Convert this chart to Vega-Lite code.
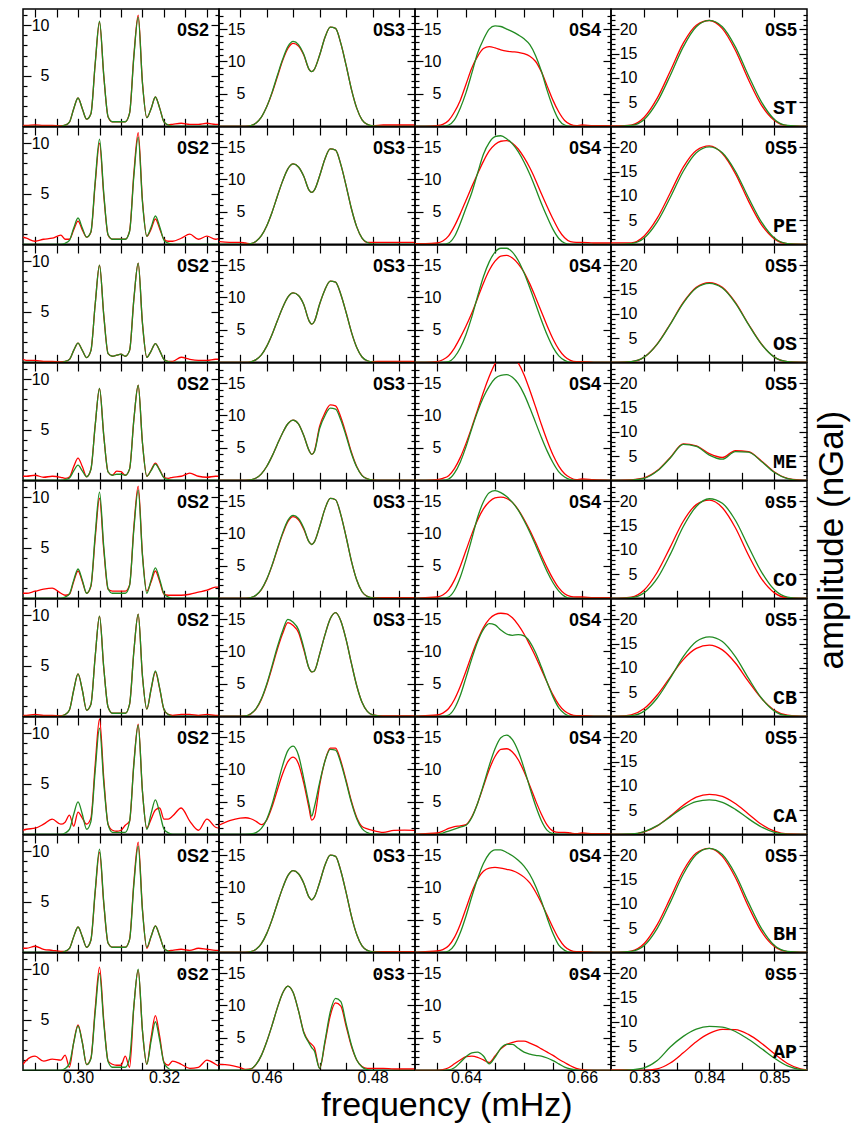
{
"$schema":"https://vega.github.io/schema/vega-lite/v6.json",
"background":"white",
"padding":{"left":21,"top":6,"right":0,"bottom":0},
"title":{"text":"frequency (mHz)","orient":"bottom","anchor":"middle","fontSize":34,"font":"Liberation Sans","fontWeight":"normal","color":"#000","dx":11,"offset":3},
"columns":4,
"spacing":0,
"bounds":"flush",
"config":{
"view":{"stroke":"#000","strokeWidth":1.5},
"axis":{"domain":false,"grid":false,"tickColor":"#000","tickWidth":1.2,"tickSize":-8,"labelFont":"Liberation Sans","labelFontSize":16,"labelColor":"#000","labelOverlap":false,"labelFlush":false},
"axisLeft":{"labelPadding":-18},
"axisRight":{"labels":false},
"axisTop":{"labels":false},
"axisBottom":{"labels":false,"labelPadding":7},
"line":{"strokeWidth":1.3,"interpolate":"monotone"}
},
"datasets":{
"ST_2":[{"f":0.2872,"r":0.1,"g":0},{"f":0.288,"r":0.1,"g":0},{"f":0.29,"r":0.15,"g":0},{"f":0.292,"r":0.1,"g":0},{"f":0.294,"r":0.1,"g":0},{"f":0.296,"r":0.05,"g":0},{"f":0.297,"r":0.11,"g":0.11},{"f":0.298,"r":0.42,"g":0.42},{"f":0.299,"r":1.74,"g":1.74},{"f":0.3,"r":2.8,"g":2.8},{"f":0.301,"r":1.74,"g":1.74},{"f":0.302,"r":0.7,"g":0.7},{"f":0.303,"r":1.24,"g":1.25},{"f":0.304,"r":6.18,"g":6.24},{"f":0.305,"r":10.3,"g":10.4},{"f":0.306,"r":4.94,"g":4.99},{"f":0.307,"r":0.93,"g":0.94},{"f":0.308,"r":0.45,"g":0.45},{"f":0.309,"r":0.45,"g":0.45},{"f":0.31,"r":0.45,"g":0.45},{"f":0.311,"r":0.45,"g":0.45},{"f":0.312,"r":1.32,"g":1.3},{"f":0.313,"r":7.04,"g":6.91},{"f":0.314,"r":11,"g":10.8},{"f":0.315,"r":4.29,"g":4.21},{"f":0.316,"r":0.85,"g":0.85},{"f":0.317,"r":1.74,"g":1.74},{"f":0.318,"r":2.9,"g":2.9},{"f":0.319,"r":1.8,"g":1.8},{"f":0.32,"r":0.44,"g":0.44},{"f":0.321,"r":0.15,"g":0.12},{"f":0.322,"r":0.2,"g":0},{"f":0.324,"r":0.3,"g":0},{"f":0.326,"r":0.2,"g":0},{"f":0.328,"r":0.2,"g":0},{"f":0.33,"r":0.3,"g":0},{"f":0.332,"r":0.2,"g":0},{"f":0.3328,"r":0.2,"g":0}],
"PE_2":[{"f":0.2872,"r":0.7,"g":0},{"f":0.288,"r":0.6,"g":0},{"f":0.29,"r":0.3,"g":0},{"f":0.292,"r":0.5,"g":0},{"f":0.294,"r":0.6,"g":0},{"f":0.296,"r":0.9,"g":0},{"f":0.297,"r":0.5,"g":0.1},{"f":0.298,"r":0.5,"g":0.39},{"f":0.299,"r":1.43,"g":1.61},{"f":0.3,"r":2.3,"g":2.6},{"f":0.301,"r":1.43,"g":1.61},{"f":0.302,"r":0.7,"g":0.7},{"f":0.303,"r":1.2,"g":1.25},{"f":0.304,"r":6,"g":6.24},{"f":0.305,"r":10,"g":10.4},{"f":0.306,"r":4.8,"g":4.99},{"f":0.307,"r":0.9,"g":0.94},{"f":0.308,"r":0.5,"g":0.5},{"f":0.309,"r":0.5,"g":0.5},{"f":0.31,"r":0.5,"g":0.5},{"f":0.311,"r":0.5,"g":0.5},{"f":0.312,"r":1.33,"g":1.27},{"f":0.313,"r":7.07,"g":6.78},{"f":0.314,"r":11.05,"g":10.6},{"f":0.315,"r":4.31,"g":4.13},{"f":0.316,"r":0.8,"g":0.8},{"f":0.317,"r":1.5,"g":1.68},{"f":0.318,"r":2.5,"g":2.8},{"f":0.319,"r":1.55,"g":1.74},{"f":0.32,"r":0.5,"g":0.42},{"f":0.321,"r":0.3,"g":0.11},{"f":0.322,"r":0.3,"g":0},{"f":0.324,"r":0.6,"g":0},{"f":0.326,"r":1,"g":0},{"f":0.328,"r":0.5,"g":0},{"f":0.33,"r":0.8,"g":0},{"f":0.332,"r":0.5,"g":0},{"f":0.3328,"r":0.6,"g":0}],
"OS_2":[{"f":0.2872,"r":0.3,"g":0},{"f":0.288,"r":0.2,"g":0},{"f":0.29,"r":0.2,"g":0},{"f":0.292,"r":0.1,"g":0},{"f":0.294,"r":0.1,"g":0},{"f":0.296,"r":0.05,"g":0},{"f":0.297,"r":0.08,"g":0.08},{"f":0.298,"r":0.29,"g":0.29},{"f":0.299,"r":1.18,"g":1.18},{"f":0.3,"r":1.9,"g":1.9},{"f":0.301,"r":1.18,"g":1.18},{"f":0.302,"r":0.46,"g":0.46},{"f":0.303,"r":1.15,"g":1.15},{"f":0.304,"r":5.76,"g":5.76},{"f":0.305,"r":9.6,"g":9.6},{"f":0.306,"r":4.61,"g":4.61},{"f":0.307,"r":0.86,"g":0.86},{"f":0.308,"r":0.6,"g":0.6},{"f":0.309,"r":0.7,"g":0.7},{"f":0.31,"r":0.8,"g":0.8},{"f":0.311,"r":0.6,"g":0.6},{"f":0.312,"r":1.18,"g":1.18},{"f":0.313,"r":6.27,"g":6.27},{"f":0.314,"r":9.8,"g":9.8},{"f":0.315,"r":3.82,"g":3.82},{"f":0.316,"r":0.5,"g":0.5},{"f":0.317,"r":1.11,"g":1.11},{"f":0.318,"r":1.85,"g":1.85},{"f":0.319,"r":1.15,"g":1.15},{"f":0.32,"r":0.28,"g":0.28},{"f":0.321,"r":0.1,"g":0.07},{"f":0.322,"r":0.1,"g":0},{"f":0.324,"r":0.5,"g":0},{"f":0.326,"r":0.3,"g":0},{"f":0.328,"r":0.2,"g":0},{"f":0.33,"r":0.2,"g":0},{"f":0.332,"r":0.3,"g":0},{"f":0.3328,"r":0.3,"g":0}],
"ME_2":[{"f":0.2872,"r":0.4,"g":0},{"f":0.288,"r":0.4,"g":0},{"f":0.29,"r":0.5,"g":0},{"f":0.292,"r":0.3,"g":0},{"f":0.294,"r":0.4,"g":0},{"f":0.296,"r":0.3,"g":0},{"f":0.297,"r":0.2,"g":0.06},{"f":0.298,"r":0.33,"g":0.23},{"f":0.299,"r":1.36,"g":0.93},{"f":0.3,"r":2.2,"g":1.5},{"f":0.301,"r":1.36,"g":0.93},{"f":0.302,"r":0.35,"g":0.35},{"f":0.303,"r":1.09,"g":1.09},{"f":0.304,"r":5.46,"g":5.46},{"f":0.305,"r":9.1,"g":9.1},{"f":0.306,"r":4.37,"g":4.37},{"f":0.307,"r":0.82,"g":0.82},{"f":0.308,"r":0.5,"g":0.5},{"f":0.309,"r":0.9,"g":0.6},{"f":0.31,"r":0.85,"g":0.6},{"f":0.311,"r":0.5,"g":0.5},{"f":0.312,"r":1.13,"g":1.13},{"f":0.313,"r":6.02,"g":6.02},{"f":0.314,"r":9.4,"g":9.4},{"f":0.315,"r":3.67,"g":3.67},{"f":0.316,"r":0.4,"g":0.4},{"f":0.317,"r":1.02,"g":0.96},{"f":0.318,"r":1.7,"g":1.6},{"f":0.319,"r":1.05,"g":0.99},{"f":0.32,"r":0.3,"g":0.24},{"f":0.321,"r":0.2,"g":0.06},{"f":0.322,"r":0.3,"g":0},{"f":0.324,"r":0.4,"g":0},{"f":0.326,"r":0.7,"g":0},{"f":0.328,"r":0.4,"g":0},{"f":0.33,"r":0.3,"g":0},{"f":0.332,"r":0.4,"g":0},{"f":0.3328,"r":0.4,"g":0}],
"CO_2":[{"f":0.2872,"r":0.5,"g":0},{"f":0.288,"r":0.5,"g":0},{"f":0.29,"r":0.7,"g":0},{"f":0.292,"r":0.9,"g":0},{"f":0.294,"r":1,"g":0},{"f":0.296,"r":0.5,"g":0},{"f":0.297,"r":0.3,"g":0.12},{"f":0.298,"r":0.41,"g":0.44},{"f":0.299,"r":1.67,"g":1.8},{"f":0.3,"r":2.7,"g":2.9},{"f":0.301,"r":1.67,"g":1.8},{"f":0.302,"r":0.5,"g":0.5},{"f":0.303,"r":1.19,"g":1.26},{"f":0.304,"r":5.94,"g":6.3},{"f":0.305,"r":9.9,"g":10.5},{"f":0.306,"r":4.75,"g":5.04},{"f":0.307,"r":0.89,"g":0.95},{"f":0.308,"r":0.7,"g":0.5},{"f":0.309,"r":0.7,"g":0.5},{"f":0.31,"r":0.7,"g":0.5},{"f":0.311,"r":0.7,"g":0.5},{"f":0.312,"r":1.33,"g":1.28},{"f":0.313,"r":7.1,"g":6.85},{"f":0.314,"r":11.1,"g":10.7},{"f":0.315,"r":4.33,"g":4.17},{"f":0.316,"r":0.7,"g":0.5},{"f":0.317,"r":1.62,"g":1.8},{"f":0.318,"r":2.7,"g":3},{"f":0.319,"r":1.67,"g":1.86},{"f":0.32,"r":0.41,"g":0.45},{"f":0.321,"r":0.3,"g":0.12},{"f":0.322,"r":0.3,"g":0},{"f":0.324,"r":0.3,"g":0},{"f":0.326,"r":0.4,"g":0},{"f":0.328,"r":0.6,"g":0},{"f":0.33,"r":0.8,"g":0},{"f":0.332,"r":1.1,"g":0},{"f":0.3328,"r":1.1,"g":0}],
"CB_2":[{"f":0.2872,"r":0.1,"g":0},{"f":0.288,"r":0.1,"g":0},{"f":0.29,"r":0.2,"g":0},{"f":0.292,"r":0.1,"g":0},{"f":0.294,"r":0.1,"g":0},{"f":0.296,"r":0.05,"g":0},{"f":0.297,"r":0.17,"g":0.17},{"f":0.298,"r":0.63,"g":0.63},{"f":0.299,"r":2.6,"g":2.6},{"f":0.3,"r":4.2,"g":4.2},{"f":0.301,"r":2.6,"g":2.6},{"f":0.302,"r":0.6,"g":0.6},{"f":0.303,"r":1.19,"g":1.19},{"f":0.304,"r":5.94,"g":5.94},{"f":0.305,"r":9.9,"g":9.9},{"f":0.306,"r":4.75,"g":4.75},{"f":0.307,"r":0.89,"g":0.89},{"f":0.308,"r":0.3,"g":0.3},{"f":0.309,"r":0.3,"g":0.3},{"f":0.31,"r":0.3,"g":0.3},{"f":0.311,"r":0.3,"g":0.3},{"f":0.312,"r":1.21,"g":1.21},{"f":0.313,"r":6.46,"g":6.46},{"f":0.314,"r":10.1,"g":10.1},{"f":0.315,"r":3.94,"g":3.94},{"f":0.316,"r":0.7,"g":0.7},{"f":0.317,"r":2.64,"g":2.7},{"f":0.318,"r":4.4,"g":4.5},{"f":0.319,"r":2.73,"g":2.79},{"f":0.32,"r":0.66,"g":0.68},{"f":0.321,"r":0.18,"g":0.18},{"f":0.322,"r":0.1,"g":0},{"f":0.324,"r":0.2,"g":0},{"f":0.326,"r":0.2,"g":0},{"f":0.328,"r":0.1,"g":0},{"f":0.33,"r":0.2,"g":0},{"f":0.332,"r":0.1,"g":0},{"f":0.3328,"r":0.1,"g":0}],
"CA_2":[{"f":0.2872,"r":0.4,"g":0},{"f":0.288,"r":0.5,"g":0},{"f":0.29,"r":0.6,"g":0},{"f":0.292,"r":1,"g":0},{"f":0.294,"r":1.5,"g":0},{"f":0.296,"r":1,"g":0},{"f":0.297,"r":1.2,"g":0.13},{"f":0.298,"r":1.9,"g":0.48},{"f":0.299,"r":0.8,"g":1.98},{"f":0.3,"r":2.2,"g":3.2},{"f":0.301,"r":1.6,"g":1.98},{"f":0.302,"r":1,"g":0.5},{"f":0.303,"r":1.6,"g":1.26},{"f":0.304,"r":6.9,"g":6.3},{"f":0.305,"r":11.4,"g":10.5},{"f":0.306,"r":5.5,"g":5.04},{"f":0.307,"r":1,"g":0.95},{"f":0.308,"r":0.4,"g":0.2},{"f":0.309,"r":0.3,"g":0.2},{"f":0.31,"r":0.4,"g":0.2},{"f":0.311,"r":0.9,"g":0.2},{"f":0.312,"r":1.3,"g":1.3},{"f":0.313,"r":7.1,"g":6.91},{"f":0.314,"r":10.9,"g":10.8},{"f":0.315,"r":4.2,"g":4.21},{"f":0.316,"r":0.6,"g":0.5},{"f":0.317,"r":1.5,"g":2.04},{"f":0.318,"r":2.4,"g":3.4},{"f":0.319,"r":2.6,"g":2.11},{"f":0.32,"r":1.5,"g":0.51},{"f":0.321,"r":1.5,"g":0.14},{"f":0.322,"r":1.8,"g":0},{"f":0.324,"r":2.6,"g":0},{"f":0.326,"r":1.3,"g":0},{"f":0.328,"r":0.4,"g":0},{"f":0.33,"r":1.5,"g":0},{"f":0.332,"r":0.7,"g":0},{"f":0.3328,"r":0.6,"g":0}],
"BH_2":[{"f":0.2872,"r":0.4,"g":0},{"f":0.288,"r":0.4,"g":0},{"f":0.29,"r":0.6,"g":0},{"f":0.292,"r":0.3,"g":0},{"f":0.294,"r":0.2,"g":0},{"f":0.296,"r":0.1,"g":0},{"f":0.297,"r":0.1,"g":0.1},{"f":0.298,"r":0.38,"g":0.38},{"f":0.299,"r":1.55,"g":1.55},{"f":0.3,"r":2.5,"g":2.5},{"f":0.301,"r":1.55,"g":1.55},{"f":0.302,"r":0.5,"g":0.5},{"f":0.303,"r":1.19,"g":1.22},{"f":0.304,"r":5.94,"g":6.12},{"f":0.305,"r":9.9,"g":10.2},{"f":0.306,"r":4.75,"g":4.9},{"f":0.307,"r":0.89,"g":0.92},{"f":0.308,"r":0.5,"g":0.5},{"f":0.309,"r":0.5,"g":0.5},{"f":0.31,"r":0.5,"g":0.5},{"f":0.311,"r":0.5,"g":0.5},{"f":0.312,"r":1.31,"g":1.26},{"f":0.313,"r":6.98,"g":6.72},{"f":0.314,"r":10.9,"g":10.5},{"f":0.315,"r":4.25,"g":4.1},{"f":0.316,"r":0.4,"g":0.5},{"f":0.317,"r":1.56,"g":1.56},{"f":0.318,"r":2.6,"g":2.6},{"f":0.319,"r":1.61,"g":1.61},{"f":0.32,"r":0.39,"g":0.39},{"f":0.321,"r":0.15,"g":0.1},{"f":0.322,"r":0.2,"g":0},{"f":0.324,"r":0.3,"g":0},{"f":0.326,"r":0.2,"g":0},{"f":0.328,"r":0.4,"g":0},{"f":0.33,"r":0.3,"g":0},{"f":0.332,"r":0.2,"g":0},{"f":0.3328,"r":0.2,"g":0}],
"AP_2":[{"f":0.2872,"r":0.6,"g":0},{"f":0.288,"r":1,"g":0},{"f":0.29,"r":1.4,"g":0},{"f":0.292,"r":0.9,"g":0},{"f":0.294,"r":1.1,"g":0},{"f":0.296,"r":1,"g":0},{"f":0.297,"r":1.5,"g":0.18},{"f":0.298,"r":0.3,"g":0.66},{"f":0.299,"r":2.79,"g":2.73},{"f":0.3,"r":4.5,"g":4.4},{"f":0.301,"r":2.79,"g":2.73},{"f":0.302,"r":0.56,"g":0.56},{"f":0.303,"r":1.22,"g":1.15},{"f":0.304,"r":6.12,"g":5.76},{"f":0.305,"r":10.2,"g":9.6},{"f":0.306,"r":4.9,"g":4.61},{"f":0.307,"r":0.92,"g":0.86},{"f":0.308,"r":0.6,"g":0.3},{"f":0.309,"r":0.5,"g":0.3},{"f":0.31,"r":0.5,"g":0.3},{"f":0.311,"r":1.4,"g":0.3},{"f":0.312,"r":0.3,"g":1.2},{"f":0.313,"r":6.34,"g":6.4},{"f":0.314,"r":9.9,"g":10},{"f":0.315,"r":3.86,"g":3.9},{"f":0.316,"r":0.6,"g":0.6},{"f":0.317,"r":3.24,"g":2.88},{"f":0.318,"r":5.4,"g":4.8},{"f":0.319,"r":3.35,"g":2.98},{"f":0.32,"r":0.81,"g":0.72},{"f":0.321,"r":0.5,"g":0.19},{"f":0.322,"r":0.9,"g":0},{"f":0.324,"r":0.6,"g":0},{"f":0.326,"r":0.2,"g":0},{"f":0.328,"r":0.3,"g":0},{"f":0.33,"r":1,"g":0},{"f":0.332,"r":0.6,"g":0},{"f":0.3328,"r":0.4,"g":0}],
"ST_3":[{"f":0.451,"r":0,"g":0},{"f":0.453,"r":0,"g":0},{"f":0.455,"r":0,"g":0},{"f":0.456,"r":0,"g":0},{"f":0.457,"r":0.1,"g":0.1},{"f":0.458,"r":0.5,"g":0.5},{"f":0.459,"r":1.4,"g":1.4},{"f":0.46,"r":3,"g":3},{"f":0.461,"r":5.1,"g":5.2},{"f":0.462,"r":7.6,"g":7.8},{"f":0.463,"r":10.1,"g":10.3},{"f":0.464,"r":12,"g":12.3},{"f":0.465,"r":12.8,"g":13.1},{"f":0.466,"r":12.4,"g":12.6},{"f":0.467,"r":11,"g":11.1},{"f":0.468,"r":8.8,"g":8.8},{"f":0.4685,"r":8.45,"g":8.45},{"f":0.469,"r":8.8,"g":8.8},{"f":0.47,"r":11,"g":11},{"f":0.471,"r":13.7,"g":13.7},{"f":0.472,"r":15.3,"g":15.3},{"f":0.473,"r":15.1,"g":15.1},{"f":0.474,"r":12.8,"g":12.8},{"f":0.475,"r":9.4,"g":9.4},{"f":0.476,"r":5.7,"g":5.7},{"f":0.477,"r":2.8,"g":2.8},{"f":0.478,"r":1,"g":1},{"f":0.479,"r":0.3,"g":0.3},{"f":0.48,"r":0.1,"g":0.05},{"f":0.482,"r":0.2,"g":0},{"f":0.484,"r":0.2,"g":0},{"f":0.486,"r":0.2,"g":0},{"f":0.488,"r":0.2,"g":0}],
"PE_3":[{"f":0.451,"r":0.4,"g":0},{"f":0.453,"r":0.3,"g":0},{"f":0.455,"r":0.3,"g":0},{"f":0.456,"r":0.2,"g":0},{"f":0.457,"r":0.1,"g":0.09},{"f":0.458,"r":0.47,"g":0.47},{"f":0.459,"r":1.33,"g":1.33},{"f":0.46,"r":2.84,"g":2.84},{"f":0.461,"r":4.92,"g":4.92},{"f":0.462,"r":7.38,"g":7.38},{"f":0.463,"r":9.75,"g":9.75},{"f":0.464,"r":11.64,"g":11.64},{"f":0.465,"r":12.4,"g":12.4},{"f":0.466,"r":11.93,"g":11.93},{"f":0.467,"r":10.5,"g":10.5},{"f":0.468,"r":8.35,"g":8.35},{"f":0.4685,"r":8,"g":8},{"f":0.469,"r":8.35,"g":8.35},{"f":0.47,"r":10.57,"g":10.57},{"f":0.471,"r":13.17,"g":13.17},{"f":0.472,"r":14.71,"g":14.71},{"f":0.473,"r":14.52,"g":14.52},{"f":0.474,"r":12.3,"g":12.3},{"f":0.475,"r":9.03,"g":9.03},{"f":0.476,"r":5.48,"g":5.48},{"f":0.477,"r":2.69,"g":2.69},{"f":0.478,"r":0.96,"g":0.96},{"f":0.479,"r":0.3,"g":0.28},{"f":0.48,"r":0.3,"g":0.04},{"f":0.482,"r":0.3,"g":0},{"f":0.484,"r":0.3,"g":0},{"f":0.486,"r":0.3,"g":0},{"f":0.488,"r":0.3,"g":0}],
"OS_3":[{"f":0.451,"r":0,"g":0},{"f":0.453,"r":0,"g":0},{"f":0.455,"r":0,"g":0},{"f":0.456,"r":0,"g":0},{"f":0.457,"r":0.08,"g":0.08},{"f":0.458,"r":0.41,"g":0.41},{"f":0.459,"r":1.14,"g":1.14},{"f":0.46,"r":2.45,"g":2.45},{"f":0.461,"r":4.25,"g":4.25},{"f":0.462,"r":6.37,"g":6.37},{"f":0.463,"r":8.41,"g":8.41},{"f":0.464,"r":10.05,"g":10.05},{"f":0.465,"r":10.7,"g":10.7},{"f":0.466,"r":10.3,"g":10.3},{"f":0.467,"r":8.9,"g":8.9},{"f":0.468,"r":6.4,"g":6.4},{"f":0.4685,"r":5.9,"g":5.9},{"f":0.469,"r":6.3,"g":6.3},{"f":0.47,"r":9,"g":9},{"f":0.471,"r":11.21,"g":11.21},{"f":0.472,"r":12.52,"g":12.52},{"f":0.473,"r":12.36,"g":12.36},{"f":0.474,"r":10.47,"g":10.47},{"f":0.475,"r":7.69,"g":7.69},{"f":0.476,"r":4.66,"g":4.66},{"f":0.477,"r":2.29,"g":2.29},{"f":0.478,"r":0.82,"g":0.82},{"f":0.479,"r":0.24,"g":0.24},{"f":0.48,"r":0.1,"g":0.04},{"f":0.482,"r":0.15,"g":0},{"f":0.484,"r":0.15,"g":0},{"f":0.486,"r":0.15,"g":0},{"f":0.488,"r":0.15,"g":0}],
"ME_3":[{"f":0.451,"r":0,"g":0},{"f":0.453,"r":0,"g":0},{"f":0.455,"r":0,"g":0},{"f":0.456,"r":0,"g":0},{"f":0.457,"r":0.07,"g":0.07},{"f":0.458,"r":0.35,"g":0.35},{"f":0.459,"r":1,"g":1},{"f":0.46,"r":2.13,"g":2.13},{"f":0.461,"r":3.69,"g":3.69},{"f":0.462,"r":5.53,"g":5.53},{"f":0.463,"r":7.31,"g":7.31},{"f":0.464,"r":8.73,"g":8.73},{"f":0.465,"r":9.3,"g":9.3},{"f":0.466,"r":8.7,"g":8.7},{"f":0.467,"r":6.9,"g":6.9},{"f":0.468,"r":4.6,"g":4.6},{"f":0.4685,"r":4,"g":4},{"f":0.469,"r":4.5,"g":4.4},{"f":0.47,"r":8.35,"g":8},{"f":0.471,"r":10.41,"g":9.97},{"f":0.472,"r":11.63,"g":11.13},{"f":0.473,"r":11.48,"g":10.99},{"f":0.474,"r":9.72,"g":9.31},{"f":0.475,"r":7.14,"g":6.83},{"f":0.476,"r":4.33,"g":4.14},{"f":0.477,"r":2.13,"g":2.04},{"f":0.478,"r":0.76,"g":0.73},{"f":0.479,"r":0.22,"g":0.21},{"f":0.48,"r":0.04,"g":0.03},{"f":0.482,"r":0,"g":0},{"f":0.484,"r":0,"g":0},{"f":0.486,"r":0,"g":0},{"f":0.488,"r":0,"g":0}],
"CO_3":[{"f":0.451,"r":0,"g":0},{"f":0.453,"r":0,"g":0},{"f":0.455,"r":0,"g":0},{"f":0.456,"r":0,"g":0},{"f":0.457,"r":0.1,"g":0.1},{"f":0.458,"r":0.48,"g":0.49},{"f":0.459,"r":1.35,"g":1.37},{"f":0.46,"r":2.88,"g":2.93},{"f":0.461,"r":5,"g":5.08},{"f":0.462,"r":7.5,"g":7.62},{"f":0.463,"r":9.9,"g":10.06},{"f":0.464,"r":11.83,"g":12.02},{"f":0.465,"r":12.6,"g":12.8},{"f":0.466,"r":12.12,"g":12.31},{"f":0.467,"r":10.67,"g":10.84},{"f":0.468,"r":8.7,"g":8.7},{"f":0.4685,"r":8.3,"g":8.3},{"f":0.469,"r":8.7,"g":8.7},{"f":0.47,"r":11.07,"g":11.07},{"f":0.471,"r":13.8,"g":13.8},{"f":0.472,"r":15.41,"g":15.41},{"f":0.473,"r":15.21,"g":15.21},{"f":0.474,"r":12.88,"g":12.88},{"f":0.475,"r":9.46,"g":9.46},{"f":0.476,"r":5.74,"g":5.74},{"f":0.477,"r":2.82,"g":2.82},{"f":0.478,"r":1.01,"g":1.01},{"f":0.479,"r":0.29,"g":0.29},{"f":0.48,"r":0.1,"g":0.05},{"f":0.482,"r":0.1,"g":0},{"f":0.484,"r":0.1,"g":0},{"f":0.486,"r":0.1,"g":0},{"f":0.488,"r":0.1,"g":0}],
"CB_3":[{"f":0.451,"r":0,"g":0},{"f":0.453,"r":0,"g":0},{"f":0.455,"r":0,"g":0},{"f":0.456,"r":0.05,"g":0.05},{"f":0.457,"r":0.38,"g":0.39},{"f":0.458,"r":1.15,"g":1.19},{"f":0.459,"r":2.61,"g":2.7},{"f":0.46,"r":4.79,"g":4.95},{"f":0.461,"r":7.48,"g":7.74},{"f":0.462,"r":10.3,"g":10.65},{"f":0.463,"r":12.73,"g":13.17},{"f":0.464,"r":14.45,"g":14.95},{"f":0.465,"r":14,"g":14.5},{"f":0.466,"r":12.95,"g":13.4},{"f":0.467,"r":10.3,"g":10.6},{"f":0.468,"r":7.4,"g":7.4},{"f":0.4685,"r":6.85,"g":6.85},{"f":0.469,"r":7,"g":7},{"f":0.47,"r":9.6,"g":9.6},{"f":0.471,"r":12.56,"g":12.56},{"f":0.472,"r":15.04,"g":15.04},{"f":0.473,"r":16,"g":16},{"f":0.474,"r":14.72,"g":14.72},{"f":0.475,"r":11.84,"g":11.84},{"f":0.476,"r":8.16,"g":8.16},{"f":0.477,"r":4.72,"g":4.72},{"f":0.478,"r":2.16,"g":2.16},{"f":0.479,"r":0.75,"g":0.75},{"f":0.48,"r":0.21,"g":0.21},{"f":0.482,"r":0.05,"g":0},{"f":0.484,"r":0.05,"g":0},{"f":0.486,"r":0.05,"g":0},{"f":0.488,"r":0.05,"g":0}],
"CA_3":[{"f":0.451,"r":1.4,"g":0},{"f":0.453,"r":2.1,"g":0},{"f":0.455,"r":2.5,"g":0},{"f":0.456,"r":2.55,"g":0},{"f":0.457,"r":2.4,"g":0.05},{"f":0.458,"r":2,"g":0.25},{"f":0.459,"r":1.5,"g":0.9},{"f":0.46,"r":2.2,"g":2.3},{"f":0.461,"r":4.2,"g":4.6},{"f":0.462,"r":6.8,"g":7.6},{"f":0.463,"r":9.3,"g":10.6},{"f":0.464,"r":11.2,"g":12.9},{"f":0.465,"r":11.9,"g":13.6},{"f":0.466,"r":10.9,"g":12.2},{"f":0.467,"r":7.9,"g":8.6},{"f":0.468,"r":4,"g":4.6},{"f":0.4685,"r":2.2,"g":2.8},{"f":0.469,"r":2.6,"g":4.2},{"f":0.47,"r":7.6,"g":8},{"f":0.471,"r":11.3,"g":11.3},{"f":0.472,"r":13.3,"g":13.1},{"f":0.473,"r":13.3,"g":13},{"f":0.474,"r":11.3,"g":11},{"f":0.475,"r":8.3,"g":8.05},{"f":0.476,"r":5.1,"g":4.88},{"f":0.477,"r":2.6,"g":2.4},{"f":0.478,"r":1.2,"g":0.86},{"f":0.479,"r":0.85,"g":0.25},{"f":0.48,"r":0.6,"g":0.04},{"f":0.482,"r":0.3,"g":0},{"f":0.484,"r":0.6,"g":0},{"f":0.486,"r":0.65,"g":0},{"f":0.488,"r":0.6,"g":0}],
"BH_3":[{"f":0.451,"r":0,"g":0},{"f":0.453,"r":0,"g":0},{"f":0.455,"r":0,"g":0},{"f":0.456,"r":0,"g":0},{"f":0.457,"r":0.1,"g":0.1},{"f":0.458,"r":0.48,"g":0.48},{"f":0.459,"r":1.35,"g":1.35},{"f":0.46,"r":2.88,"g":2.88},{"f":0.461,"r":5,"g":5},{"f":0.462,"r":7.5,"g":7.5},{"f":0.463,"r":9.9,"g":9.9},{"f":0.464,"r":11.83,"g":11.83},{"f":0.465,"r":12.6,"g":12.6},{"f":0.466,"r":12.12,"g":12.12},{"f":0.467,"r":10.67,"g":10.67},{"f":0.468,"r":8.5,"g":8.5},{"f":0.4685,"r":8.1,"g":8.1},{"f":0.469,"r":8.5,"g":8.5},{"f":0.47,"r":10.78,"g":10.78},{"f":0.471,"r":13.44,"g":13.44},{"f":0.472,"r":15.01,"g":15.01},{"f":0.473,"r":14.81,"g":14.81},{"f":0.474,"r":12.55,"g":12.55},{"f":0.475,"r":9.21,"g":9.21},{"f":0.476,"r":5.59,"g":5.59},{"f":0.477,"r":2.75,"g":2.75},{"f":0.478,"r":0.98,"g":0.98},{"f":0.479,"r":0.29,"g":0.29},{"f":0.48,"r":0.1,"g":0.05},{"f":0.482,"r":0.1,"g":0},{"f":0.484,"r":0.1,"g":0},{"f":0.486,"r":0.1,"g":0},{"f":0.488,"r":0.1,"g":0}],
"AP_3":[{"f":0.451,"r":0.9,"g":0},{"f":0.453,"r":0.8,"g":0},{"f":0.455,"r":0.4,"g":0},{"f":0.456,"r":0.15,"g":0.05},{"f":0.457,"r":0.2,"g":0.2},{"f":0.458,"r":0.9,"g":0.9},{"f":0.459,"r":2.3,"g":2.3},{"f":0.46,"r":4.4,"g":4.4},{"f":0.461,"r":6.9,"g":6.9},{"f":0.462,"r":9.6,"g":9.6},{"f":0.463,"r":11.9,"g":11.9},{"f":0.464,"r":13,"g":13},{"f":0.465,"r":12,"g":12},{"f":0.466,"r":9.2,"g":9.2},{"f":0.467,"r":5.9,"g":5.8},{"f":0.468,"r":4.4,"g":4.2},{"f":0.4685,"r":4,"g":3.5},{"f":0.469,"r":3.5,"g":3},{"f":0.47,"r":0.3,"g":0.3},{"f":0.471,"r":4.2,"g":4.5},{"f":0.472,"r":8.4,"g":9},{"f":0.473,"r":10.4,"g":11.1},{"f":0.474,"r":9.9,"g":10.6},{"f":0.475,"r":6.8,"g":7.2},{"f":0.476,"r":3.7,"g":3.9},{"f":0.477,"r":1.6,"g":1.6},{"f":0.478,"r":0.6,"g":0.5},{"f":0.479,"r":0.3,"g":0.1},{"f":0.48,"r":0.3,"g":0},{"f":0.482,"r":0.3,"g":0},{"f":0.484,"r":0.2,"g":0},{"f":0.486,"r":0.2,"g":0},{"f":0.488,"r":0.2,"g":0}],
"ST_4":[{"f":0.6312,"r":0,"g":0},{"f":0.633,"r":0,"g":0},{"f":0.635,"r":0.1,"g":0},{"f":0.636,"r":0.3,"g":0},{"f":0.637,"r":0.9,"g":0.2},{"f":0.638,"r":2.2,"g":1},{"f":0.639,"r":4,"g":2.8},{"f":0.64,"r":6.5,"g":5.2},{"f":0.641,"r":9,"g":8.2},{"f":0.642,"r":10.8,"g":11.3},{"f":0.643,"r":12,"g":13.4},{"f":0.644,"r":12.3,"g":15},{"f":0.645,"r":12.1,"g":15.5},{"f":0.646,"r":11.8,"g":15.4},{"f":0.647,"r":11.6,"g":15},{"f":0.648,"r":11.5,"g":14.6},{"f":0.649,"r":11.4,"g":14.1},{"f":0.65,"r":11.2,"g":13.5},{"f":0.651,"r":10.8,"g":12.6},{"f":0.652,"r":10,"g":10.9},{"f":0.653,"r":8.4,"g":8.5},{"f":0.654,"r":6.2,"g":5.5},{"f":0.655,"r":4,"g":2.9},{"f":0.656,"r":2.2,"g":1},{"f":0.657,"r":0.9,"g":0.2},{"f":0.658,"r":0.3,"g":0},{"f":0.659,"r":0.1,"g":0},{"f":0.66,"r":0.2,"g":0},{"f":0.662,"r":0.1,"g":0},{"f":0.665,"r":0.1,"g":0}],
"PE_4":[{"f":0.6312,"r":0.1,"g":0},{"f":0.633,"r":0.1,"g":0},{"f":0.635,"r":0.2,"g":0},{"f":0.636,"r":0.5,"g":0},{"f":0.637,"r":1.3,"g":0.2},{"f":0.638,"r":2.8,"g":1.2},{"f":0.639,"r":4.7,"g":3.2},{"f":0.64,"r":6.8,"g":5.6},{"f":0.641,"r":8.9,"g":8},{"f":0.642,"r":10.9,"g":11},{"f":0.643,"r":12.8,"g":13.9},{"f":0.644,"r":14.4,"g":15.7},{"f":0.645,"r":15.4,"g":16.6},{"f":0.646,"r":15.9,"g":16.75},{"f":0.647,"r":16,"g":16.3},{"f":0.648,"r":15.6,"g":15.5},{"f":0.649,"r":14.7,"g":14.3},{"f":0.65,"r":13.4,"g":12.7},{"f":0.651,"r":11.8,"g":10.8},{"f":0.652,"r":9.9,"g":8.6},{"f":0.653,"r":7.8,"g":6.3},{"f":0.654,"r":5.8,"g":4.2},{"f":0.655,"r":3.9,"g":2.3},{"f":0.656,"r":2.2,"g":0.9},{"f":0.657,"r":1,"g":0.2},{"f":0.658,"r":0.4,"g":0},{"f":0.659,"r":0.3,"g":0},{"f":0.66,"r":0.3,"g":0},{"f":0.662,"r":0.2,"g":0},{"f":0.665,"r":0.2,"g":0}],
"OS_4":[{"f":0.6312,"r":0,"g":0},{"f":0.633,"r":0,"g":0},{"f":0.635,"r":0.1,"g":0},{"f":0.636,"r":0.4,"g":0},{"f":0.637,"r":1,"g":0.1},{"f":0.638,"r":2.2,"g":0.8},{"f":0.639,"r":3.8,"g":2.2},{"f":0.64,"r":5.6,"g":4.3},{"f":0.641,"r":7.6,"g":7},{"f":0.642,"r":9.9,"g":10.2},{"f":0.643,"r":12.2,"g":13.2},{"f":0.644,"r":14.2,"g":15.5},{"f":0.645,"r":15.6,"g":17},{"f":0.646,"r":16.4,"g":17.6},{"f":0.647,"r":16.5,"g":17.6},{"f":0.648,"r":16.1,"g":17},{"f":0.649,"r":15.2,"g":15.7},{"f":0.65,"r":13.9,"g":13.8},{"f":0.651,"r":12.1,"g":11.5},{"f":0.652,"r":10,"g":9},{"f":0.653,"r":7.8,"g":6.5},{"f":0.654,"r":5.6,"g":4.2},{"f":0.655,"r":3.6,"g":2.3},{"f":0.656,"r":2,"g":1},{"f":0.657,"r":0.9,"g":0.3},{"f":0.658,"r":0.3,"g":0},{"f":0.659,"r":0.1,"g":0},{"f":0.66,"r":0.1,"g":0},{"f":0.662,"r":0,"g":0},{"f":0.665,"r":0,"g":0}],
"ME_4":[{"f":0.6312,"r":0,"g":0},{"f":0.633,"r":0,"g":0},{"f":0.635,"r":0.1,"g":0},{"f":0.636,"r":0.3,"g":0},{"f":0.637,"r":0.7,"g":0.2},{"f":0.638,"r":1.8,"g":1.1},{"f":0.639,"r":3.5,"g":2.8},{"f":0.64,"r":5.7,"g":5.2},{"f":0.641,"r":8.2,"g":8},{"f":0.642,"r":10.9,"g":10.6},{"f":0.643,"r":13.6,"g":12.8},{"f":0.644,"r":16,"g":14.5},{"f":0.645,"r":18,"g":15.7},{"f":0.646,"r":19.2,"g":16.2},{"f":0.647,"r":19.6,"g":16.3},{"f":0.648,"r":19.2,"g":15.9},{"f":0.649,"r":18.1,"g":14.9},{"f":0.65,"r":16.3,"g":13.3},{"f":0.651,"r":13.9,"g":11.2},{"f":0.652,"r":11.3,"g":8.9},{"f":0.653,"r":8.6,"g":6.6},{"f":0.654,"r":6.1,"g":4.5},{"f":0.655,"r":3.9,"g":2.7},{"f":0.656,"r":2.2,"g":1.3},{"f":0.657,"r":1,"g":0.5},{"f":0.658,"r":0.4,"g":0.1},{"f":0.659,"r":0.1,"g":0},{"f":0.66,"r":0.2,"g":0},{"f":0.662,"r":0.1,"g":0},{"f":0.665,"r":0,"g":0}],
"CO_4":[{"f":0.6312,"r":0,"g":0},{"f":0.633,"r":0.1,"g":0},{"f":0.635,"r":0.2,"g":0},{"f":0.636,"r":0.5,"g":0},{"f":0.637,"r":1.3,"g":0.2},{"f":0.638,"r":2.8,"g":1.2},{"f":0.639,"r":4.9,"g":3.2},{"f":0.64,"r":7.4,"g":6},{"f":0.641,"r":9.9,"g":9.2},{"f":0.642,"r":12.1,"g":12.5},{"f":0.643,"r":13.8,"g":14.9},{"f":0.644,"r":14.9,"g":16.3},{"f":0.645,"r":15.5,"g":16.6},{"f":0.646,"r":15.6,"g":16.3},{"f":0.647,"r":15.4,"g":15.7},{"f":0.648,"r":14.8,"g":14.8},{"f":0.649,"r":13.7,"g":13.6},{"f":0.65,"r":12.2,"g":12},{"f":0.651,"r":10.5,"g":10.2},{"f":0.652,"r":8.6,"g":8.2},{"f":0.653,"r":6.6,"g":6.1},{"f":0.654,"r":4.7,"g":4.1},{"f":0.655,"r":3,"g":2.4},{"f":0.656,"r":1.6,"g":1.1},{"f":0.657,"r":0.7,"g":0.3},{"f":0.658,"r":0.3,"g":0},{"f":0.659,"r":0.2,"g":0},{"f":0.66,"r":0.2,"g":0},{"f":0.662,"r":0.1,"g":0},{"f":0.665,"r":0.1,"g":0}],
"CB_4":[{"f":0.6312,"r":0,"g":0},{"f":0.633,"r":0.1,"g":0},{"f":0.635,"r":0.2,"g":0},{"f":0.636,"r":0.5,"g":0},{"f":0.637,"r":1.2,"g":0.2},{"f":0.638,"r":2.6,"g":1.2},{"f":0.639,"r":4.6,"g":3.2},{"f":0.64,"r":7,"g":6},{"f":0.641,"r":9.5,"g":8.9},{"f":0.642,"r":11.8,"g":11.5},{"f":0.643,"r":13.7,"g":13.4},{"f":0.644,"r":15,"g":14.3},{"f":0.645,"r":15.7,"g":14.1},{"f":0.646,"r":15.9,"g":13.3},{"f":0.647,"r":15.8,"g":12.7},{"f":0.648,"r":15.2,"g":12.5},{"f":0.649,"r":14.1,"g":12.6},{"f":0.65,"r":12.7,"g":12.4},{"f":0.651,"r":11,"g":11.5},{"f":0.652,"r":9.2,"g":9.8},{"f":0.653,"r":7.2,"g":7.6},{"f":0.654,"r":5.2,"g":5.2},{"f":0.655,"r":3.3,"g":3},{"f":0.656,"r":1.8,"g":1.3},{"f":0.657,"r":0.8,"g":0.4},{"f":0.658,"r":0.3,"g":0},{"f":0.659,"r":0.1,"g":0},{"f":0.66,"r":0.1,"g":0},{"f":0.662,"r":0,"g":0},{"f":0.665,"r":0,"g":0}],
"CA_4":[{"f":0.6312,"r":0,"g":0},{"f":0.633,"r":0.1,"g":0},{"f":0.635,"r":0.2,"g":0},{"f":0.636,"r":0.5,"g":0.2},{"f":0.637,"r":0.9,"g":0.5},{"f":0.638,"r":1.2,"g":0.8},{"f":0.639,"r":1.3,"g":1.1},{"f":0.64,"r":1.5,"g":1.4},{"f":0.641,"r":2.7,"g":2.6},{"f":0.642,"r":4.8,"g":4.8},{"f":0.643,"r":7.4,"g":7.6},{"f":0.644,"r":10,"g":10.6},{"f":0.645,"r":12,"g":13.2},{"f":0.646,"r":13.1,"g":14.9},{"f":0.647,"r":13.2,"g":15.3},{"f":0.648,"r":12.7,"g":14.6},{"f":0.649,"r":11.5,"g":12.8},{"f":0.65,"r":9.7,"g":10.2},{"f":0.651,"r":7.5,"g":7.2},{"f":0.652,"r":5.2,"g":4.4},{"f":0.653,"r":3.1,"g":2.1},{"f":0.654,"r":1.4,"g":0.6},{"f":0.655,"r":0.5,"g":0.1},{"f":0.656,"r":0.3,"g":0},{"f":0.657,"r":0.3,"g":0},{"f":0.658,"r":0.2,"g":0},{"f":0.659,"r":0.1,"g":0},{"f":0.66,"r":0.2,"g":0},{"f":0.662,"r":0.1,"g":0},{"f":0.665,"r":0.1,"g":0}],
"BH_4":[{"f":0.6312,"r":0,"g":0},{"f":0.633,"r":0.1,"g":0},{"f":0.635,"r":0.2,"g":0},{"f":0.636,"r":0.4,"g":0},{"f":0.637,"r":1,"g":0.2},{"f":0.638,"r":2.3,"g":1.1},{"f":0.639,"r":4.3,"g":3},{"f":0.64,"r":6.8,"g":5.6},{"f":0.641,"r":9.3,"g":8.6},{"f":0.642,"r":11.3,"g":11.4},{"f":0.643,"r":12.5,"g":13.7},{"f":0.644,"r":13,"g":15.2},{"f":0.645,"r":13.1,"g":15.8},{"f":0.646,"r":13,"g":15.8},{"f":0.647,"r":12.8,"g":15.4},{"f":0.648,"r":12.6,"g":14.9},{"f":0.649,"r":12.2,"g":14.2},{"f":0.65,"r":11.6,"g":13.3},{"f":0.651,"r":10.7,"g":12},{"f":0.652,"r":9.3,"g":10.2},{"f":0.653,"r":7.6,"g":7.9},{"f":0.654,"r":5.7,"g":5.3},{"f":0.655,"r":3.8,"g":2.9},{"f":0.656,"r":2.1,"g":1.1},{"f":0.657,"r":0.9,"g":0.3},{"f":0.658,"r":0.3,"g":0},{"f":0.659,"r":0.1,"g":0},{"f":0.66,"r":0.1,"g":0},{"f":0.662,"r":0,"g":0},{"f":0.665,"r":0,"g":0}],
"AP_4":[{"f":0.6312,"r":0,"g":0},{"f":0.633,"r":0,"g":0},{"f":0.635,"r":0,"g":0},{"f":0.636,"r":0.1,"g":0},{"f":0.637,"r":0.4,"g":0.05},{"f":0.638,"r":1,"g":0.4},{"f":0.639,"r":1.6,"g":1.2},{"f":0.64,"r":2.1,"g":2.1},{"f":0.641,"r":2.2,"g":2.7},{"f":0.642,"r":2,"g":2.8},{"f":0.643,"r":1.6,"g":2.2},{"f":0.644,"r":1.2,"g":1},{"f":0.645,"r":2.2,"g":2},{"f":0.646,"r":3.3,"g":3.4},{"f":0.647,"r":4,"g":4},{"f":0.648,"r":4.3,"g":4},{"f":0.649,"r":4.5,"g":3.4},{"f":0.65,"r":4.5,"g":2.8},{"f":0.651,"r":4.2,"g":2.5},{"f":0.652,"r":3.8,"g":2.3},{"f":0.653,"r":3.3,"g":2.2},{"f":0.654,"r":2.8,"g":1.9},{"f":0.655,"r":2.3,"g":1.5},{"f":0.656,"r":1.7,"g":1},{"f":0.657,"r":1.2,"g":0.5},{"f":0.658,"r":0.7,"g":0.2},{"f":0.659,"r":0.3,"g":0.05},{"f":0.66,"r":0.1,"g":0},{"f":0.662,"r":0,"g":0},{"f":0.665,"r":0,"g":0}],
"ST_5":[{"f":0.8249,"r":0.1,"g":0},{"f":0.826,"r":0.1,"g":0},{"f":0.828,"r":0.26,"g":0.17},{"f":0.83,"r":1.86,"g":1.42},{"f":0.832,"r":5.8,"g":5.03},{"f":0.834,"r":11.39,"g":10.49},{"f":0.836,"r":17.15,"g":16.39},{"f":0.838,"r":20.85,"g":20.54},{"f":0.84,"r":21.83,"g":21.85},{"f":0.842,"r":20.15,"g":20.54},{"f":0.844,"r":15.7,"g":16.39},{"f":0.846,"r":9.64,"g":10.49},{"f":0.848,"r":4.38,"g":5.03},{"f":0.85,"r":1.2,"g":1.42},{"f":0.852,"r":0.13,"g":0.17},{"f":0.854,"r":0,"g":0},{"f":0.855,"r":0,"g":0}],
"PE_5":[{"f":0.8249,"r":0.3,"g":0},{"f":0.826,"r":0.3,"g":0},{"f":0.828,"r":0.3,"g":0.16},{"f":0.83,"r":1.73,"g":1.31},{"f":0.832,"r":5.39,"g":4.62},{"f":0.834,"r":10.58,"g":9.65},{"f":0.836,"r":15.93,"g":15.08},{"f":0.838,"r":19.37,"g":18.89},{"f":0.84,"r":20.29,"g":20.1},{"f":0.842,"r":18.72,"g":18.89},{"f":0.844,"r":14.59,"g":15.08},{"f":0.846,"r":8.95,"g":9.65},{"f":0.848,"r":4.07,"g":4.62},{"f":0.85,"r":1.12,"g":1.31},{"f":0.852,"r":0.12,"g":0.16},{"f":0.854,"r":0,"g":0},{"f":0.855,"r":0,"g":0}],
"OS_5":[{"f":0.8249,"r":0,"g":0},{"f":0.826,"r":0,"g":0},{"f":0.828,"r":0.13,"g":0.13},{"f":0.83,"r":1.07,"g":1.06},{"f":0.832,"r":3.78,"g":3.75},{"f":0.834,"r":7.9,"g":7.82},{"f":0.836,"r":12.34,"g":12.23},{"f":0.838,"r":15.46,"g":15.32},{"f":0.84,"r":16.45,"g":16.3},{"f":0.842,"r":15.46,"g":15.32},{"f":0.844,"r":12.34,"g":12.23},{"f":0.846,"r":7.9,"g":7.82},{"f":0.848,"r":3.78,"g":3.75},{"f":0.85,"r":1.07,"g":1.06},{"f":0.852,"r":0.13,"g":0.13},{"f":0.854,"r":0,"g":0},{"f":0.855,"r":0,"g":0}],
"ME_5":[{"f":0.8249,"r":0,"g":0},{"f":0.826,"r":0,"g":0},{"f":0.828,"r":0.1,"g":0.05},{"f":0.83,"r":0.5,"g":0.4},{"f":0.832,"r":2,"g":1.9},{"f":0.834,"r":4.7,"g":4.6},{"f":0.836,"r":7.5,"g":7.4},{"f":0.838,"r":7.1,"g":7},{"f":0.84,"r":5.5,"g":5.2},{"f":0.842,"r":4.7,"g":4.35},{"f":0.844,"r":6.1,"g":5.9},{"f":0.846,"r":5.9,"g":5.8},{"f":0.848,"r":4,"g":3.9},{"f":0.85,"r":1.7,"g":1.6},{"f":0.852,"r":0.4,"g":0.35},{"f":0.854,"r":0.05,"g":0},{"f":0.855,"r":0,"g":0}],
"CO_5":[{"f":0.8249,"r":0,"g":0},{"f":0.826,"r":0,"g":0},{"f":0.828,"r":0.24,"g":0.12},{"f":0.83,"r":1.73,"g":1.13},{"f":0.832,"r":5.38,"g":4.1},{"f":0.834,"r":10.56,"g":9.06},{"f":0.836,"r":15.9,"g":14.8},{"f":0.838,"r":19.33,"g":18.95},{"f":0.84,"r":20.24,"g":20.54},{"f":0.842,"r":18.68,"g":19.6},{"f":0.844,"r":14.56,"g":16.1},{"f":0.846,"r":8.93,"g":10.7},{"f":0.848,"r":4.06,"g":5.46},{"f":0.85,"r":1.12,"g":1.75},{"f":0.852,"r":0.12,"g":0.25},{"f":0.854,"r":0,"g":0},{"f":0.855,"r":0,"g":0}],
"CB_5":[{"f":0.8249,"r":0,"g":0},{"f":0.826,"r":0,"g":0},{"f":0.828,"r":0.31,"g":0.13},{"f":0.83,"r":1.6,"g":1.07},{"f":0.832,"r":4.4,"g":3.77},{"f":0.834,"r":8.1,"g":7.87},{"f":0.836,"r":11.7,"g":12.3},{"f":0.838,"r":14,"g":15.42},{"f":0.84,"r":14.7,"g":16.4},{"f":0.842,"r":13.7,"g":15.42},{"f":0.844,"r":11,"g":12.3},{"f":0.846,"r":7.2,"g":7.87},{"f":0.848,"r":3.7,"g":3.77},{"f":0.85,"r":1.25,"g":1.07},{"f":0.852,"r":0.22,"g":0.13},{"f":0.854,"r":0,"g":0},{"f":0.855,"r":0,"g":0}],
"CA_5":[{"f":0.8249,"r":0,"g":0},{"f":0.826,"r":0,"g":0},{"f":0.828,"r":0.05,"g":0.07},{"f":0.83,"r":0.48,"g":0.57},{"f":0.832,"r":1.73,"g":1.78},{"f":0.834,"r":3.75,"g":3.6},{"f":0.836,"r":5.98,"g":5.5},{"f":0.838,"r":7.67,"g":6.75},{"f":0.84,"r":8.25,"g":7.1},{"f":0.842,"r":7.84,"g":6.6},{"f":0.844,"r":6.35,"g":5.15},{"f":0.846,"r":4.2,"g":3.23},{"f":0.848,"r":2.06,"g":1.5},{"f":0.85,"r":0.66,"g":0.41},{"f":0.852,"r":0.08,"g":0.04},{"f":0.854,"r":0,"g":0},{"f":0.855,"r":0,"g":0}],
"BH_5":[{"f":0.8249,"r":0,"g":0},{"f":0.826,"r":0,"g":0},{"f":0.828,"r":0.26,"g":0.17},{"f":0.83,"r":1.83,"g":1.39},{"f":0.832,"r":5.7,"g":4.93},{"f":0.834,"r":11.18,"g":10.3},{"f":0.836,"r":16.83,"g":16.09},{"f":0.838,"r":20.47,"g":20.16},{"f":0.84,"r":21.44,"g":21.45},{"f":0.842,"r":19.78,"g":20.16},{"f":0.844,"r":15.42,"g":16.09},{"f":0.846,"r":9.46,"g":10.3},{"f":0.848,"r":4.3,"g":4.93},{"f":0.85,"r":1.18,"g":1.39},{"f":0.852,"r":0.13,"g":0.17},{"f":0.854,"r":0,"g":0},{"f":0.855,"r":0,"g":0}],
"AP_5":[{"f":0.8249,"r":0.1,"g":0},{"f":0.826,"r":0.1,"g":0},{"f":0.828,"r":0.05,"g":0.1},{"f":0.83,"r":0,"g":0.5},{"f":0.832,"r":0.3,"g":2},{"f":0.834,"r":1.5,"g":4.8},{"f":0.836,"r":3.6,"g":7},{"f":0.838,"r":5.9,"g":8.5},{"f":0.84,"r":7.6,"g":9.05},{"f":0.842,"r":8.45,"g":8.9},{"f":0.844,"r":8.4,"g":8},{"f":0.846,"r":7.4,"g":6.4},{"f":0.848,"r":5.6,"g":4.5},{"f":0.85,"r":3.4,"g":2.5},{"f":0.852,"r":1.4,"g":0.9},{"f":0.854,"r":0.3,"g":0.15},{"f":0.855,"r":0.1,"g":0.05}]
},
"concat":[
{"width":196,"height":117.3,"data":{"name":"ST_2"},"layer":[{"mark":{"type":"line","color":"#ff0000","clip":true},"encoding":{"x":{"field":"f","type":"quantitative","title":null,"scale":{"domain":[0.2872,0.3328],"nice":false},"axis":{"orient":"bottom","values":[0.29,0.295,0.3,0.305,0.31,0.315,0.32,0.325,0.33]}},"y":{"field":"r","type":"quantitative","title":null,"scale":{"domain":[0,11.6],"nice":false},"axis":{"orient":"left","values":[1,2,3,4,5,6,7,8,9,10,11],"tickSize":{"condition":{"test":"datum.value % 5 === 0","value":-8},"value":-4},"labelExpr":"datum.value % 5 === 0 ? datum.label : ''"}}}},{"mark":{"type":"line","color":"#228b22","clip":true},"encoding":{"x":{"field":"f","type":"quantitative","title":null,"scale":{"domain":[0.2872,0.3328],"nice":false},"axis":{"orient":"top","values":[0.29,0.295,0.3,0.305,0.31,0.315,0.32,0.325,0.33]}},"y":{"field":"g","type":"quantitative","title":null,"scale":{"domain":[0,11.6],"nice":false},"axis":{"orient":"right","values":[1,2,3,4,5,6,7,8,9,10,11],"tickSize":{"condition":{"test":"datum.value % 5 === 0","value":-8},"value":-4}}}}},{"data":{"values":[{"t":"0S2"}]},"mark":{"type":"text","align":"right","baseline":"top","dx":-10,"dy":13,"font":"Liberation Sans","fontWeight":"bold","fontSize":18},"encoding":{"text":{"field":"t"},"x":{"datum":0.3328,"axis":null},"y":{"datum":11.6,"axis":null}}}]},
{"width":196,"height":117.3,"data":{"name":"ST_3"},"layer":[{"mark":{"type":"line","color":"#ff0000","clip":true},"encoding":{"x":{"field":"f","type":"quantitative","title":null,"scale":{"domain":[0.451,0.488],"nice":false},"axis":{"orient":"bottom","values":[0.455,0.46,0.465,0.47,0.475,0.48,0.485]}},"y":{"field":"r","type":"quantitative","title":null,"scale":{"domain":[0,18.1],"nice":false},"axis":{"orient":"left","values":[1,2,3,4,5,6,7,8,9,10,11,12,13,14,15,16,17],"tickSize":{"condition":{"test":"datum.value % 5 === 0","value":-8},"value":-4},"labelExpr":"datum.value % 5 === 0 ? datum.label : ''"}}}},{"mark":{"type":"line","color":"#228b22","clip":true},"encoding":{"x":{"field":"f","type":"quantitative","title":null,"scale":{"domain":[0.451,0.488],"nice":false},"axis":{"orient":"top","values":[0.455,0.46,0.465,0.47,0.475,0.48,0.485]}},"y":{"field":"g","type":"quantitative","title":null,"scale":{"domain":[0,18.1],"nice":false},"axis":{"orient":"right","values":[1,2,3,4,5,6,7,8,9,10,11,12,13,14,15,16,17],"tickSize":{"condition":{"test":"datum.value % 5 === 0","value":-8},"value":-4}}}}},{"data":{"values":[{"t":"0S3"}]},"mark":{"type":"text","align":"right","baseline":"top","dx":-10,"dy":13,"font":"Liberation Sans","fontWeight":"bold","fontSize":18},"encoding":{"text":{"field":"t"},"x":{"datum":0.488,"axis":null},"y":{"datum":18.1,"axis":null}}}]},
{"width":196,"height":117.3,"data":{"name":"ST_4"},"layer":[{"mark":{"type":"line","color":"#ff0000","clip":true},"encoding":{"x":{"field":"f","type":"quantitative","title":null,"scale":{"domain":[0.6312,0.665],"nice":false},"axis":{"orient":"bottom","values":[0.635,0.64,0.645,0.65,0.655,0.66]}},"y":{"field":"r","type":"quantitative","title":null,"scale":{"domain":[0,18.1],"nice":false},"axis":{"orient":"left","values":[1,2,3,4,5,6,7,8,9,10,11,12,13,14,15,16,17],"tickSize":{"condition":{"test":"datum.value % 5 === 0","value":-8},"value":-4},"labelExpr":"datum.value % 5 === 0 ? datum.label : ''"}}}},{"mark":{"type":"line","color":"#228b22","clip":true},"encoding":{"x":{"field":"f","type":"quantitative","title":null,"scale":{"domain":[0.6312,0.665],"nice":false},"axis":{"orient":"top","values":[0.635,0.64,0.645,0.65,0.655,0.66]}},"y":{"field":"g","type":"quantitative","title":null,"scale":{"domain":[0,18.1],"nice":false},"axis":{"orient":"right","values":[1,2,3,4,5,6,7,8,9,10,11,12,13,14,15,16,17],"tickSize":{"condition":{"test":"datum.value % 5 === 0","value":-8},"value":-4}}}}},{"data":{"values":[{"t":"0S4"}]},"mark":{"type":"text","align":"right","baseline":"top","dx":-10,"dy":13,"font":"Liberation Sans","fontWeight":"bold","fontSize":18},"encoding":{"text":{"field":"t"},"x":{"datum":0.665,"axis":null},"y":{"datum":18.1,"axis":null}}}]},
{"width":196,"height":117.3,"data":{"name":"ST_5"},"layer":[{"mark":{"type":"line","color":"#ff0000","clip":true},"encoding":{"x":{"field":"f","type":"quantitative","title":null,"scale":{"domain":[0.8249,0.855],"nice":false},"axis":{"orient":"bottom","values":[0.83,0.835,0.84,0.845,0.85]}},"y":{"field":"r","type":"quantitative","title":null,"scale":{"domain":[0,24.2],"nice":false},"axis":{"orient":"left","values":[1,2,3,4,5,6,7,8,9,10,11,12,13,14,15,16,17,18,19,20,21,22,23],"tickSize":{"condition":{"test":"datum.value % 5 === 0","value":-8},"value":-4},"labelExpr":"datum.value % 5 === 0 ? datum.label : ''"}}}},{"mark":{"type":"line","color":"#228b22","clip":true},"encoding":{"x":{"field":"f","type":"quantitative","title":null,"scale":{"domain":[0.8249,0.855],"nice":false},"axis":{"orient":"top","values":[0.83,0.835,0.84,0.845,0.85]}},"y":{"field":"g","type":"quantitative","title":null,"scale":{"domain":[0,24.2],"nice":false},"axis":{"orient":"right","values":[1,2,3,4,5,6,7,8,9,10,11,12,13,14,15,16,17,18,19,20,21,22,23],"tickSize":{"condition":{"test":"datum.value % 5 === 0","value":-8},"value":-4}}}}},{"data":{"values":[{"t":"0S5"}]},"mark":{"type":"text","align":"right","baseline":"top","dx":-10,"dy":13,"font":"Liberation Sans","fontWeight":"bold","fontSize":18},"encoding":{"text":{"field":"t"},"x":{"datum":0.855,"axis":null},"y":{"datum":24.2,"axis":null}}},{"data":{"values":[{"t":"ST"}]},"mark":{"type":"text","align":"right","baseline":"alphabetic","dx":-10,"dy":-12,"font":"Liberation Mono","fontWeight":"bold","fontSize":20},"encoding":{"text":{"field":"t"},"x":{"datum":0.855,"axis":null},"y":{"datum":0,"axis":null}}}]},
{"width":196,"height":117.3,"data":{"name":"PE_2"},"layer":[{"mark":{"type":"line","color":"#ff0000","clip":true},"encoding":{"x":{"field":"f","type":"quantitative","title":null,"scale":{"domain":[0.2872,0.3328],"nice":false},"axis":{"orient":"bottom","values":[0.29,0.295,0.3,0.305,0.31,0.315,0.32,0.325,0.33]}},"y":{"field":"r","type":"quantitative","title":null,"scale":{"domain":[0,11.6],"nice":false},"axis":{"orient":"left","values":[1,2,3,4,5,6,7,8,9,10,11],"tickSize":{"condition":{"test":"datum.value % 5 === 0","value":-8},"value":-4},"labelExpr":"datum.value % 5 === 0 ? datum.label : ''"}}}},{"mark":{"type":"line","color":"#228b22","clip":true},"encoding":{"x":{"field":"f","type":"quantitative","title":null,"scale":{"domain":[0.2872,0.3328],"nice":false},"axis":{"orient":"top","values":[0.29,0.295,0.3,0.305,0.31,0.315,0.32,0.325,0.33]}},"y":{"field":"g","type":"quantitative","title":null,"scale":{"domain":[0,11.6],"nice":false},"axis":{"orient":"right","values":[1,2,3,4,5,6,7,8,9,10,11],"tickSize":{"condition":{"test":"datum.value % 5 === 0","value":-8},"value":-4}}}}},{"data":{"values":[{"t":"0S2"}]},"mark":{"type":"text","align":"right","baseline":"top","dx":-10,"dy":13,"font":"Liberation Sans","fontWeight":"bold","fontSize":18},"encoding":{"text":{"field":"t"},"x":{"datum":0.3328,"axis":null},"y":{"datum":11.6,"axis":null}}}]},
{"width":196,"height":117.3,"data":{"name":"PE_3"},"layer":[{"mark":{"type":"line","color":"#ff0000","clip":true},"encoding":{"x":{"field":"f","type":"quantitative","title":null,"scale":{"domain":[0.451,0.488],"nice":false},"axis":{"orient":"bottom","values":[0.455,0.46,0.465,0.47,0.475,0.48,0.485]}},"y":{"field":"r","type":"quantitative","title":null,"scale":{"domain":[0,18.1],"nice":false},"axis":{"orient":"left","values":[1,2,3,4,5,6,7,8,9,10,11,12,13,14,15,16,17],"tickSize":{"condition":{"test":"datum.value % 5 === 0","value":-8},"value":-4},"labelExpr":"datum.value % 5 === 0 ? datum.label : ''"}}}},{"mark":{"type":"line","color":"#228b22","clip":true},"encoding":{"x":{"field":"f","type":"quantitative","title":null,"scale":{"domain":[0.451,0.488],"nice":false},"axis":{"orient":"top","values":[0.455,0.46,0.465,0.47,0.475,0.48,0.485]}},"y":{"field":"g","type":"quantitative","title":null,"scale":{"domain":[0,18.1],"nice":false},"axis":{"orient":"right","values":[1,2,3,4,5,6,7,8,9,10,11,12,13,14,15,16,17],"tickSize":{"condition":{"test":"datum.value % 5 === 0","value":-8},"value":-4}}}}},{"data":{"values":[{"t":"0S3"}]},"mark":{"type":"text","align":"right","baseline":"top","dx":-10,"dy":13,"font":"Liberation Sans","fontWeight":"bold","fontSize":18},"encoding":{"text":{"field":"t"},"x":{"datum":0.488,"axis":null},"y":{"datum":18.1,"axis":null}}}]},
{"width":196,"height":117.3,"data":{"name":"PE_4"},"layer":[{"mark":{"type":"line","color":"#ff0000","clip":true},"encoding":{"x":{"field":"f","type":"quantitative","title":null,"scale":{"domain":[0.6312,0.665],"nice":false},"axis":{"orient":"bottom","values":[0.635,0.64,0.645,0.65,0.655,0.66]}},"y":{"field":"r","type":"quantitative","title":null,"scale":{"domain":[0,18.1],"nice":false},"axis":{"orient":"left","values":[1,2,3,4,5,6,7,8,9,10,11,12,13,14,15,16,17],"tickSize":{"condition":{"test":"datum.value % 5 === 0","value":-8},"value":-4},"labelExpr":"datum.value % 5 === 0 ? datum.label : ''"}}}},{"mark":{"type":"line","color":"#228b22","clip":true},"encoding":{"x":{"field":"f","type":"quantitative","title":null,"scale":{"domain":[0.6312,0.665],"nice":false},"axis":{"orient":"top","values":[0.635,0.64,0.645,0.65,0.655,0.66]}},"y":{"field":"g","type":"quantitative","title":null,"scale":{"domain":[0,18.1],"nice":false},"axis":{"orient":"right","values":[1,2,3,4,5,6,7,8,9,10,11,12,13,14,15,16,17],"tickSize":{"condition":{"test":"datum.value % 5 === 0","value":-8},"value":-4}}}}},{"data":{"values":[{"t":"0S4"}]},"mark":{"type":"text","align":"right","baseline":"top","dx":-10,"dy":13,"font":"Liberation Sans","fontWeight":"bold","fontSize":18},"encoding":{"text":{"field":"t"},"x":{"datum":0.665,"axis":null},"y":{"datum":18.1,"axis":null}}}]},
{"width":196,"height":117.3,"data":{"name":"PE_5"},"layer":[{"mark":{"type":"line","color":"#ff0000","clip":true},"encoding":{"x":{"field":"f","type":"quantitative","title":null,"scale":{"domain":[0.8249,0.855],"nice":false},"axis":{"orient":"bottom","values":[0.83,0.835,0.84,0.845,0.85]}},"y":{"field":"r","type":"quantitative","title":null,"scale":{"domain":[0,24.2],"nice":false},"axis":{"orient":"left","values":[1,2,3,4,5,6,7,8,9,10,11,12,13,14,15,16,17,18,19,20,21,22,23],"tickSize":{"condition":{"test":"datum.value % 5 === 0","value":-8},"value":-4},"labelExpr":"datum.value % 5 === 0 ? datum.label : ''"}}}},{"mark":{"type":"line","color":"#228b22","clip":true},"encoding":{"x":{"field":"f","type":"quantitative","title":null,"scale":{"domain":[0.8249,0.855],"nice":false},"axis":{"orient":"top","values":[0.83,0.835,0.84,0.845,0.85]}},"y":{"field":"g","type":"quantitative","title":null,"scale":{"domain":[0,24.2],"nice":false},"axis":{"orient":"right","values":[1,2,3,4,5,6,7,8,9,10,11,12,13,14,15,16,17,18,19,20,21,22,23],"tickSize":{"condition":{"test":"datum.value % 5 === 0","value":-8},"value":-4}}}}},{"data":{"values":[{"t":"0S5"}]},"mark":{"type":"text","align":"right","baseline":"top","dx":-10,"dy":13,"font":"Liberation Sans","fontWeight":"bold","fontSize":18},"encoding":{"text":{"field":"t"},"x":{"datum":0.855,"axis":null},"y":{"datum":24.2,"axis":null}}},{"data":{"values":[{"t":"PE"}]},"mark":{"type":"text","align":"right","baseline":"alphabetic","dx":-10,"dy":-12,"font":"Liberation Mono","fontWeight":"bold","fontSize":20},"encoding":{"text":{"field":"t"},"x":{"datum":0.855,"axis":null},"y":{"datum":0,"axis":null}}}]},
{"width":196,"height":117.3,"data":{"name":"OS_2"},"layer":[{"mark":{"type":"line","color":"#ff0000","clip":true},"encoding":{"x":{"field":"f","type":"quantitative","title":null,"scale":{"domain":[0.2872,0.3328],"nice":false},"axis":{"orient":"bottom","values":[0.29,0.295,0.3,0.305,0.31,0.315,0.32,0.325,0.33]}},"y":{"field":"r","type":"quantitative","title":null,"scale":{"domain":[0,11.6],"nice":false},"axis":{"orient":"left","values":[1,2,3,4,5,6,7,8,9,10,11],"tickSize":{"condition":{"test":"datum.value % 5 === 0","value":-8},"value":-4},"labelExpr":"datum.value % 5 === 0 ? datum.label : ''"}}}},{"mark":{"type":"line","color":"#228b22","clip":true},"encoding":{"x":{"field":"f","type":"quantitative","title":null,"scale":{"domain":[0.2872,0.3328],"nice":false},"axis":{"orient":"top","values":[0.29,0.295,0.3,0.305,0.31,0.315,0.32,0.325,0.33]}},"y":{"field":"g","type":"quantitative","title":null,"scale":{"domain":[0,11.6],"nice":false},"axis":{"orient":"right","values":[1,2,3,4,5,6,7,8,9,10,11],"tickSize":{"condition":{"test":"datum.value % 5 === 0","value":-8},"value":-4}}}}},{"data":{"values":[{"t":"0S2"}]},"mark":{"type":"text","align":"right","baseline":"top","dx":-10,"dy":13,"font":"Liberation Sans","fontWeight":"bold","fontSize":18},"encoding":{"text":{"field":"t"},"x":{"datum":0.3328,"axis":null},"y":{"datum":11.6,"axis":null}}}]},
{"width":196,"height":117.3,"data":{"name":"OS_3"},"layer":[{"mark":{"type":"line","color":"#ff0000","clip":true},"encoding":{"x":{"field":"f","type":"quantitative","title":null,"scale":{"domain":[0.451,0.488],"nice":false},"axis":{"orient":"bottom","values":[0.455,0.46,0.465,0.47,0.475,0.48,0.485]}},"y":{"field":"r","type":"quantitative","title":null,"scale":{"domain":[0,18.1],"nice":false},"axis":{"orient":"left","values":[1,2,3,4,5,6,7,8,9,10,11,12,13,14,15,16,17],"tickSize":{"condition":{"test":"datum.value % 5 === 0","value":-8},"value":-4},"labelExpr":"datum.value % 5 === 0 ? datum.label : ''"}}}},{"mark":{"type":"line","color":"#228b22","clip":true},"encoding":{"x":{"field":"f","type":"quantitative","title":null,"scale":{"domain":[0.451,0.488],"nice":false},"axis":{"orient":"top","values":[0.455,0.46,0.465,0.47,0.475,0.48,0.485]}},"y":{"field":"g","type":"quantitative","title":null,"scale":{"domain":[0,18.1],"nice":false},"axis":{"orient":"right","values":[1,2,3,4,5,6,7,8,9,10,11,12,13,14,15,16,17],"tickSize":{"condition":{"test":"datum.value % 5 === 0","value":-8},"value":-4}}}}},{"data":{"values":[{"t":"0S3"}]},"mark":{"type":"text","align":"right","baseline":"top","dx":-10,"dy":13,"font":"Liberation Sans","fontWeight":"bold","fontSize":18},"encoding":{"text":{"field":"t"},"x":{"datum":0.488,"axis":null},"y":{"datum":18.1,"axis":null}}}]},
{"width":196,"height":117.3,"data":{"name":"OS_4"},"layer":[{"mark":{"type":"line","color":"#ff0000","clip":true},"encoding":{"x":{"field":"f","type":"quantitative","title":null,"scale":{"domain":[0.6312,0.665],"nice":false},"axis":{"orient":"bottom","values":[0.635,0.64,0.645,0.65,0.655,0.66]}},"y":{"field":"r","type":"quantitative","title":null,"scale":{"domain":[0,18.1],"nice":false},"axis":{"orient":"left","values":[1,2,3,4,5,6,7,8,9,10,11,12,13,14,15,16,17],"tickSize":{"condition":{"test":"datum.value % 5 === 0","value":-8},"value":-4},"labelExpr":"datum.value % 5 === 0 ? datum.label : ''"}}}},{"mark":{"type":"line","color":"#228b22","clip":true},"encoding":{"x":{"field":"f","type":"quantitative","title":null,"scale":{"domain":[0.6312,0.665],"nice":false},"axis":{"orient":"top","values":[0.635,0.64,0.645,0.65,0.655,0.66]}},"y":{"field":"g","type":"quantitative","title":null,"scale":{"domain":[0,18.1],"nice":false},"axis":{"orient":"right","values":[1,2,3,4,5,6,7,8,9,10,11,12,13,14,15,16,17],"tickSize":{"condition":{"test":"datum.value % 5 === 0","value":-8},"value":-4}}}}},{"data":{"values":[{"t":"0S4"}]},"mark":{"type":"text","align":"right","baseline":"top","dx":-10,"dy":13,"font":"Liberation Sans","fontWeight":"bold","fontSize":18},"encoding":{"text":{"field":"t"},"x":{"datum":0.665,"axis":null},"y":{"datum":18.1,"axis":null}}}]},
{"width":196,"height":117.3,"data":{"name":"OS_5"},"layer":[{"mark":{"type":"line","color":"#ff0000","clip":true},"encoding":{"x":{"field":"f","type":"quantitative","title":null,"scale":{"domain":[0.8249,0.855],"nice":false},"axis":{"orient":"bottom","values":[0.83,0.835,0.84,0.845,0.85]}},"y":{"field":"r","type":"quantitative","title":null,"scale":{"domain":[0,24.2],"nice":false},"axis":{"orient":"left","values":[1,2,3,4,5,6,7,8,9,10,11,12,13,14,15,16,17,18,19,20,21,22,23],"tickSize":{"condition":{"test":"datum.value % 5 === 0","value":-8},"value":-4},"labelExpr":"datum.value % 5 === 0 ? datum.label : ''"}}}},{"mark":{"type":"line","color":"#228b22","clip":true},"encoding":{"x":{"field":"f","type":"quantitative","title":null,"scale":{"domain":[0.8249,0.855],"nice":false},"axis":{"orient":"top","values":[0.83,0.835,0.84,0.845,0.85]}},"y":{"field":"g","type":"quantitative","title":null,"scale":{"domain":[0,24.2],"nice":false},"axis":{"orient":"right","values":[1,2,3,4,5,6,7,8,9,10,11,12,13,14,15,16,17,18,19,20,21,22,23],"tickSize":{"condition":{"test":"datum.value % 5 === 0","value":-8},"value":-4}}}}},{"data":{"values":[{"t":"0S5"}]},"mark":{"type":"text","align":"right","baseline":"top","dx":-10,"dy":13,"font":"Liberation Sans","fontWeight":"bold","fontSize":18},"encoding":{"text":{"field":"t"},"x":{"datum":0.855,"axis":null},"y":{"datum":24.2,"axis":null}}},{"data":{"values":[{"t":"OS"}]},"mark":{"type":"text","align":"right","baseline":"alphabetic","dx":-10,"dy":-12,"font":"Liberation Mono","fontWeight":"bold","fontSize":20},"encoding":{"text":{"field":"t"},"x":{"datum":0.855,"axis":null},"y":{"datum":0,"axis":null}}}]},
{"width":196,"height":117.3,"data":{"name":"ME_2"},"layer":[{"mark":{"type":"line","color":"#ff0000","clip":true},"encoding":{"x":{"field":"f","type":"quantitative","title":null,"scale":{"domain":[0.2872,0.3328],"nice":false},"axis":{"orient":"bottom","values":[0.29,0.295,0.3,0.305,0.31,0.315,0.32,0.325,0.33]}},"y":{"field":"r","type":"quantitative","title":null,"scale":{"domain":[0,11.6],"nice":false},"axis":{"orient":"left","values":[1,2,3,4,5,6,7,8,9,10,11],"tickSize":{"condition":{"test":"datum.value % 5 === 0","value":-8},"value":-4},"labelExpr":"datum.value % 5 === 0 ? datum.label : ''"}}}},{"mark":{"type":"line","color":"#228b22","clip":true},"encoding":{"x":{"field":"f","type":"quantitative","title":null,"scale":{"domain":[0.2872,0.3328],"nice":false},"axis":{"orient":"top","values":[0.29,0.295,0.3,0.305,0.31,0.315,0.32,0.325,0.33]}},"y":{"field":"g","type":"quantitative","title":null,"scale":{"domain":[0,11.6],"nice":false},"axis":{"orient":"right","values":[1,2,3,4,5,6,7,8,9,10,11],"tickSize":{"condition":{"test":"datum.value % 5 === 0","value":-8},"value":-4}}}}},{"data":{"values":[{"t":"0S2"}]},"mark":{"type":"text","align":"right","baseline":"top","dx":-10,"dy":13,"font":"Liberation Sans","fontWeight":"bold","fontSize":18},"encoding":{"text":{"field":"t"},"x":{"datum":0.3328,"axis":null},"y":{"datum":11.6,"axis":null}}}]},
{"width":196,"height":117.3,"data":{"name":"ME_3"},"layer":[{"mark":{"type":"line","color":"#ff0000","clip":true},"encoding":{"x":{"field":"f","type":"quantitative","title":null,"scale":{"domain":[0.451,0.488],"nice":false},"axis":{"orient":"bottom","values":[0.455,0.46,0.465,0.47,0.475,0.48,0.485]}},"y":{"field":"r","type":"quantitative","title":null,"scale":{"domain":[0,18.1],"nice":false},"axis":{"orient":"left","values":[1,2,3,4,5,6,7,8,9,10,11,12,13,14,15,16,17],"tickSize":{"condition":{"test":"datum.value % 5 === 0","value":-8},"value":-4},"labelExpr":"datum.value % 5 === 0 ? datum.label : ''"}}}},{"mark":{"type":"line","color":"#228b22","clip":true},"encoding":{"x":{"field":"f","type":"quantitative","title":null,"scale":{"domain":[0.451,0.488],"nice":false},"axis":{"orient":"top","values":[0.455,0.46,0.465,0.47,0.475,0.48,0.485]}},"y":{"field":"g","type":"quantitative","title":null,"scale":{"domain":[0,18.1],"nice":false},"axis":{"orient":"right","values":[1,2,3,4,5,6,7,8,9,10,11,12,13,14,15,16,17],"tickSize":{"condition":{"test":"datum.value % 5 === 0","value":-8},"value":-4}}}}},{"data":{"values":[{"t":"0S3"}]},"mark":{"type":"text","align":"right","baseline":"top","dx":-10,"dy":13,"font":"Liberation Sans","fontWeight":"bold","fontSize":18},"encoding":{"text":{"field":"t"},"x":{"datum":0.488,"axis":null},"y":{"datum":18.1,"axis":null}}}]},
{"width":196,"height":117.3,"data":{"name":"ME_4"},"layer":[{"mark":{"type":"line","color":"#ff0000","clip":true},"encoding":{"x":{"field":"f","type":"quantitative","title":null,"scale":{"domain":[0.6312,0.665],"nice":false},"axis":{"orient":"bottom","values":[0.635,0.64,0.645,0.65,0.655,0.66]}},"y":{"field":"r","type":"quantitative","title":null,"scale":{"domain":[0,18.1],"nice":false},"axis":{"orient":"left","values":[1,2,3,4,5,6,7,8,9,10,11,12,13,14,15,16,17],"tickSize":{"condition":{"test":"datum.value % 5 === 0","value":-8},"value":-4},"labelExpr":"datum.value % 5 === 0 ? datum.label : ''"}}}},{"mark":{"type":"line","color":"#228b22","clip":true},"encoding":{"x":{"field":"f","type":"quantitative","title":null,"scale":{"domain":[0.6312,0.665],"nice":false},"axis":{"orient":"top","values":[0.635,0.64,0.645,0.65,0.655,0.66]}},"y":{"field":"g","type":"quantitative","title":null,"scale":{"domain":[0,18.1],"nice":false},"axis":{"orient":"right","values":[1,2,3,4,5,6,7,8,9,10,11,12,13,14,15,16,17],"tickSize":{"condition":{"test":"datum.value % 5 === 0","value":-8},"value":-4}}}}},{"data":{"values":[{"t":"0S4"}]},"mark":{"type":"text","align":"right","baseline":"top","dx":-10,"dy":13,"font":"Liberation Sans","fontWeight":"bold","fontSize":18},"encoding":{"text":{"field":"t"},"x":{"datum":0.665,"axis":null},"y":{"datum":18.1,"axis":null}}}]},
{"width":196,"height":117.3,"data":{"name":"ME_5"},"layer":[{"mark":{"type":"line","color":"#ff0000","clip":true},"encoding":{"x":{"field":"f","type":"quantitative","title":null,"scale":{"domain":[0.8249,0.855],"nice":false},"axis":{"orient":"bottom","values":[0.83,0.835,0.84,0.845,0.85]}},"y":{"field":"r","type":"quantitative","title":null,"scale":{"domain":[0,24.2],"nice":false},"axis":{"orient":"left","values":[1,2,3,4,5,6,7,8,9,10,11,12,13,14,15,16,17,18,19,20,21,22,23],"tickSize":{"condition":{"test":"datum.value % 5 === 0","value":-8},"value":-4},"labelExpr":"datum.value % 5 === 0 ? datum.label : ''"}}}},{"mark":{"type":"line","color":"#228b22","clip":true},"encoding":{"x":{"field":"f","type":"quantitative","title":null,"scale":{"domain":[0.8249,0.855],"nice":false},"axis":{"orient":"top","values":[0.83,0.835,0.84,0.845,0.85]}},"y":{"field":"g","type":"quantitative","title":null,"scale":{"domain":[0,24.2],"nice":false},"axis":{"orient":"right","values":[1,2,3,4,5,6,7,8,9,10,11,12,13,14,15,16,17,18,19,20,21,22,23],"tickSize":{"condition":{"test":"datum.value % 5 === 0","value":-8},"value":-4}}}}},{"data":{"values":[{"t":"0S5"}]},"mark":{"type":"text","align":"right","baseline":"top","dx":-10,"dy":13,"font":"Liberation Sans","fontWeight":"bold","fontSize":18},"encoding":{"text":{"field":"t"},"x":{"datum":0.855,"axis":null},"y":{"datum":24.2,"axis":null}}},{"data":{"values":[{"t":"ME"}]},"mark":{"type":"text","align":"right","baseline":"alphabetic","dx":-10,"dy":-12,"font":"Liberation Mono","fontWeight":"bold","fontSize":20},"encoding":{"text":{"field":"t"},"x":{"datum":0.855,"axis":null},"y":{"datum":0,"axis":null}}}]},
{"width":196,"height":117.3,"data":{"name":"CO_2"},"layer":[{"mark":{"type":"line","color":"#ff0000","clip":true},"encoding":{"x":{"field":"f","type":"quantitative","title":null,"scale":{"domain":[0.2872,0.3328],"nice":false},"axis":{"orient":"bottom","values":[0.29,0.295,0.3,0.305,0.31,0.315,0.32,0.325,0.33]}},"y":{"field":"r","type":"quantitative","title":null,"scale":{"domain":[0,11.6],"nice":false},"axis":{"orient":"left","values":[1,2,3,4,5,6,7,8,9,10,11],"tickSize":{"condition":{"test":"datum.value % 5 === 0","value":-8},"value":-4},"labelExpr":"datum.value % 5 === 0 ? datum.label : ''"}}}},{"mark":{"type":"line","color":"#228b22","clip":true},"encoding":{"x":{"field":"f","type":"quantitative","title":null,"scale":{"domain":[0.2872,0.3328],"nice":false},"axis":{"orient":"top","values":[0.29,0.295,0.3,0.305,0.31,0.315,0.32,0.325,0.33]}},"y":{"field":"g","type":"quantitative","title":null,"scale":{"domain":[0,11.6],"nice":false},"axis":{"orient":"right","values":[1,2,3,4,5,6,7,8,9,10,11],"tickSize":{"condition":{"test":"datum.value % 5 === 0","value":-8},"value":-4}}}}},{"data":{"values":[{"t":"0S2"}]},"mark":{"type":"text","align":"right","baseline":"top","dx":-10,"dy":13,"font":"Liberation Sans","fontWeight":"bold","fontSize":18},"encoding":{"text":{"field":"t"},"x":{"datum":0.3328,"axis":null},"y":{"datum":11.6,"axis":null}}}]},
{"width":196,"height":117.3,"data":{"name":"CO_3"},"layer":[{"mark":{"type":"line","color":"#ff0000","clip":true},"encoding":{"x":{"field":"f","type":"quantitative","title":null,"scale":{"domain":[0.451,0.488],"nice":false},"axis":{"orient":"bottom","values":[0.455,0.46,0.465,0.47,0.475,0.48,0.485]}},"y":{"field":"r","type":"quantitative","title":null,"scale":{"domain":[0,18.1],"nice":false},"axis":{"orient":"left","values":[1,2,3,4,5,6,7,8,9,10,11,12,13,14,15,16,17],"tickSize":{"condition":{"test":"datum.value % 5 === 0","value":-8},"value":-4},"labelExpr":"datum.value % 5 === 0 ? datum.label : ''"}}}},{"mark":{"type":"line","color":"#228b22","clip":true},"encoding":{"x":{"field":"f","type":"quantitative","title":null,"scale":{"domain":[0.451,0.488],"nice":false},"axis":{"orient":"top","values":[0.455,0.46,0.465,0.47,0.475,0.48,0.485]}},"y":{"field":"g","type":"quantitative","title":null,"scale":{"domain":[0,18.1],"nice":false},"axis":{"orient":"right","values":[1,2,3,4,5,6,7,8,9,10,11,12,13,14,15,16,17],"tickSize":{"condition":{"test":"datum.value % 5 === 0","value":-8},"value":-4}}}}},{"data":{"values":[{"t":"0S3"}]},"mark":{"type":"text","align":"right","baseline":"top","dx":-10,"dy":13,"font":"Liberation Sans","fontWeight":"bold","fontSize":18},"encoding":{"text":{"field":"t"},"x":{"datum":0.488,"axis":null},"y":{"datum":18.1,"axis":null}}}]},
{"width":196,"height":117.3,"data":{"name":"CO_4"},"layer":[{"mark":{"type":"line","color":"#ff0000","clip":true},"encoding":{"x":{"field":"f","type":"quantitative","title":null,"scale":{"domain":[0.6312,0.665],"nice":false},"axis":{"orient":"bottom","values":[0.635,0.64,0.645,0.65,0.655,0.66]}},"y":{"field":"r","type":"quantitative","title":null,"scale":{"domain":[0,18.1],"nice":false},"axis":{"orient":"left","values":[1,2,3,4,5,6,7,8,9,10,11,12,13,14,15,16,17],"tickSize":{"condition":{"test":"datum.value % 5 === 0","value":-8},"value":-4},"labelExpr":"datum.value % 5 === 0 ? datum.label : ''"}}}},{"mark":{"type":"line","color":"#228b22","clip":true},"encoding":{"x":{"field":"f","type":"quantitative","title":null,"scale":{"domain":[0.6312,0.665],"nice":false},"axis":{"orient":"top","values":[0.635,0.64,0.645,0.65,0.655,0.66]}},"y":{"field":"g","type":"quantitative","title":null,"scale":{"domain":[0,18.1],"nice":false},"axis":{"orient":"right","values":[1,2,3,4,5,6,7,8,9,10,11,12,13,14,15,16,17],"tickSize":{"condition":{"test":"datum.value % 5 === 0","value":-8},"value":-4}}}}},{"data":{"values":[{"t":"0S4"}]},"mark":{"type":"text","align":"right","baseline":"top","dx":-10,"dy":13,"font":"Liberation Sans","fontWeight":"bold","fontSize":18},"encoding":{"text":{"field":"t"},"x":{"datum":0.665,"axis":null},"y":{"datum":18.1,"axis":null}}}]},
{"width":196,"height":117.3,"data":{"name":"CO_5"},"layer":[{"mark":{"type":"line","color":"#ff0000","clip":true},"encoding":{"x":{"field":"f","type":"quantitative","title":null,"scale":{"domain":[0.8249,0.855],"nice":false},"axis":{"orient":"bottom","values":[0.83,0.835,0.84,0.845,0.85]}},"y":{"field":"r","type":"quantitative","title":null,"scale":{"domain":[0,24.2],"nice":false},"axis":{"orient":"left","values":[1,2,3,4,5,6,7,8,9,10,11,12,13,14,15,16,17,18,19,20,21,22,23],"tickSize":{"condition":{"test":"datum.value % 5 === 0","value":-8},"value":-4},"labelExpr":"datum.value % 5 === 0 ? datum.label : ''"}}}},{"mark":{"type":"line","color":"#228b22","clip":true},"encoding":{"x":{"field":"f","type":"quantitative","title":null,"scale":{"domain":[0.8249,0.855],"nice":false},"axis":{"orient":"top","values":[0.83,0.835,0.84,0.845,0.85]}},"y":{"field":"g","type":"quantitative","scale":{"domain":[0,24.2],"nice":false},"axis":{"orient":"right","values":[1,2,3,4,5,6,7,8,9,10,11,12,13,14,15,16,17,18,19,20,21,22,23],"tickSize":{"condition":{"test":"datum.value % 5 === 0","value":-8},"value":-4},"title":"amplitude (nGal)","titleAngle":270,"titleBaseline":"top","titleAlign":"center","titlePadding":7,"titleFontSize":35,"titleFont":"Liberation Sans","titleFontWeight":"normal","titleColor":"#000"}}}},{"data":{"values":[{"t":"0S5"}]},"mark":{"type":"text","align":"right","baseline":"top","dx":-10,"dy":13,"font":"Liberation Mono","fontWeight":"bold","fontSize":18},"encoding":{"text":{"field":"t"},"x":{"datum":0.855,"axis":null},"y":{"datum":24.2,"axis":null}}},{"data":{"values":[{"t":"CO"}]},"mark":{"type":"text","align":"right","baseline":"alphabetic","dx":-10,"dy":-12,"font":"Liberation Mono","fontWeight":"bold","fontSize":20},"encoding":{"text":{"field":"t"},"x":{"datum":0.855,"axis":null},"y":{"datum":0,"axis":null}}}]},
{"width":196,"height":117.3,"data":{"name":"CB_2"},"layer":[{"mark":{"type":"line","color":"#ff0000","clip":true},"encoding":{"x":{"field":"f","type":"quantitative","title":null,"scale":{"domain":[0.2872,0.3328],"nice":false},"axis":{"orient":"bottom","values":[0.29,0.295,0.3,0.305,0.31,0.315,0.32,0.325,0.33]}},"y":{"field":"r","type":"quantitative","title":null,"scale":{"domain":[0,11.6],"nice":false},"axis":{"orient":"left","values":[1,2,3,4,5,6,7,8,9,10,11],"tickSize":{"condition":{"test":"datum.value % 5 === 0","value":-8},"value":-4},"labelExpr":"datum.value % 5 === 0 ? datum.label : ''"}}}},{"mark":{"type":"line","color":"#228b22","clip":true},"encoding":{"x":{"field":"f","type":"quantitative","title":null,"scale":{"domain":[0.2872,0.3328],"nice":false},"axis":{"orient":"top","values":[0.29,0.295,0.3,0.305,0.31,0.315,0.32,0.325,0.33]}},"y":{"field":"g","type":"quantitative","title":null,"scale":{"domain":[0,11.6],"nice":false},"axis":{"orient":"right","values":[1,2,3,4,5,6,7,8,9,10,11],"tickSize":{"condition":{"test":"datum.value % 5 === 0","value":-8},"value":-4}}}}},{"data":{"values":[{"t":"0S2"}]},"mark":{"type":"text","align":"right","baseline":"top","dx":-10,"dy":13,"font":"Liberation Sans","fontWeight":"bold","fontSize":18},"encoding":{"text":{"field":"t"},"x":{"datum":0.3328,"axis":null},"y":{"datum":11.6,"axis":null}}}]},
{"width":196,"height":117.3,"data":{"name":"CB_3"},"layer":[{"mark":{"type":"line","color":"#ff0000","clip":true},"encoding":{"x":{"field":"f","type":"quantitative","title":null,"scale":{"domain":[0.451,0.488],"nice":false},"axis":{"orient":"bottom","values":[0.455,0.46,0.465,0.47,0.475,0.48,0.485]}},"y":{"field":"r","type":"quantitative","title":null,"scale":{"domain":[0,18.1],"nice":false},"axis":{"orient":"left","values":[1,2,3,4,5,6,7,8,9,10,11,12,13,14,15,16,17],"tickSize":{"condition":{"test":"datum.value % 5 === 0","value":-8},"value":-4},"labelExpr":"datum.value % 5 === 0 ? datum.label : ''"}}}},{"mark":{"type":"line","color":"#228b22","clip":true},"encoding":{"x":{"field":"f","type":"quantitative","title":null,"scale":{"domain":[0.451,0.488],"nice":false},"axis":{"orient":"top","values":[0.455,0.46,0.465,0.47,0.475,0.48,0.485]}},"y":{"field":"g","type":"quantitative","title":null,"scale":{"domain":[0,18.1],"nice":false},"axis":{"orient":"right","values":[1,2,3,4,5,6,7,8,9,10,11,12,13,14,15,16,17],"tickSize":{"condition":{"test":"datum.value % 5 === 0","value":-8},"value":-4}}}}},{"data":{"values":[{"t":"0S3"}]},"mark":{"type":"text","align":"right","baseline":"top","dx":-10,"dy":13,"font":"Liberation Sans","fontWeight":"bold","fontSize":18},"encoding":{"text":{"field":"t"},"x":{"datum":0.488,"axis":null},"y":{"datum":18.1,"axis":null}}}]},
{"width":196,"height":117.3,"data":{"name":"CB_4"},"layer":[{"mark":{"type":"line","color":"#ff0000","clip":true},"encoding":{"x":{"field":"f","type":"quantitative","title":null,"scale":{"domain":[0.6312,0.665],"nice":false},"axis":{"orient":"bottom","values":[0.635,0.64,0.645,0.65,0.655,0.66]}},"y":{"field":"r","type":"quantitative","title":null,"scale":{"domain":[0,18.1],"nice":false},"axis":{"orient":"left","values":[1,2,3,4,5,6,7,8,9,10,11,12,13,14,15,16,17],"tickSize":{"condition":{"test":"datum.value % 5 === 0","value":-8},"value":-4},"labelExpr":"datum.value % 5 === 0 ? datum.label : ''"}}}},{"mark":{"type":"line","color":"#228b22","clip":true},"encoding":{"x":{"field":"f","type":"quantitative","title":null,"scale":{"domain":[0.6312,0.665],"nice":false},"axis":{"orient":"top","values":[0.635,0.64,0.645,0.65,0.655,0.66]}},"y":{"field":"g","type":"quantitative","title":null,"scale":{"domain":[0,18.1],"nice":false},"axis":{"orient":"right","values":[1,2,3,4,5,6,7,8,9,10,11,12,13,14,15,16,17],"tickSize":{"condition":{"test":"datum.value % 5 === 0","value":-8},"value":-4}}}}},{"data":{"values":[{"t":"0S4"}]},"mark":{"type":"text","align":"right","baseline":"top","dx":-10,"dy":13,"font":"Liberation Sans","fontWeight":"bold","fontSize":18},"encoding":{"text":{"field":"t"},"x":{"datum":0.665,"axis":null},"y":{"datum":18.1,"axis":null}}}]},
{"width":196,"height":117.3,"data":{"name":"CB_5"},"layer":[{"mark":{"type":"line","color":"#ff0000","clip":true},"encoding":{"x":{"field":"f","type":"quantitative","title":null,"scale":{"domain":[0.8249,0.855],"nice":false},"axis":{"orient":"bottom","values":[0.83,0.835,0.84,0.845,0.85]}},"y":{"field":"r","type":"quantitative","title":null,"scale":{"domain":[0,24.2],"nice":false},"axis":{"orient":"left","values":[1,2,3,4,5,6,7,8,9,10,11,12,13,14,15,16,17,18,19,20,21,22,23],"tickSize":{"condition":{"test":"datum.value % 5 === 0","value":-8},"value":-4},"labelExpr":"datum.value % 5 === 0 ? datum.label : ''"}}}},{"mark":{"type":"line","color":"#228b22","clip":true},"encoding":{"x":{"field":"f","type":"quantitative","title":null,"scale":{"domain":[0.8249,0.855],"nice":false},"axis":{"orient":"top","values":[0.83,0.835,0.84,0.845,0.85]}},"y":{"field":"g","type":"quantitative","title":null,"scale":{"domain":[0,24.2],"nice":false},"axis":{"orient":"right","values":[1,2,3,4,5,6,7,8,9,10,11,12,13,14,15,16,17,18,19,20,21,22,23],"tickSize":{"condition":{"test":"datum.value % 5 === 0","value":-8},"value":-4}}}}},{"data":{"values":[{"t":"0S5"}]},"mark":{"type":"text","align":"right","baseline":"top","dx":-10,"dy":13,"font":"Liberation Sans","fontWeight":"bold","fontSize":18},"encoding":{"text":{"field":"t"},"x":{"datum":0.855,"axis":null},"y":{"datum":24.2,"axis":null}}},{"data":{"values":[{"t":"CB"}]},"mark":{"type":"text","align":"right","baseline":"alphabetic","dx":-10,"dy":-12,"font":"Liberation Mono","fontWeight":"bold","fontSize":20},"encoding":{"text":{"field":"t"},"x":{"datum":0.855,"axis":null},"y":{"datum":0,"axis":null}}}]},
{"width":196,"height":117.3,"data":{"name":"CA_2"},"layer":[{"mark":{"type":"line","color":"#ff0000","clip":true},"encoding":{"x":{"field":"f","type":"quantitative","title":null,"scale":{"domain":[0.2872,0.3328],"nice":false},"axis":{"orient":"bottom","values":[0.29,0.295,0.3,0.305,0.31,0.315,0.32,0.325,0.33]}},"y":{"field":"r","type":"quantitative","title":null,"scale":{"domain":[0,11.6],"nice":false},"axis":{"orient":"left","values":[1,2,3,4,5,6,7,8,9,10,11],"tickSize":{"condition":{"test":"datum.value % 5 === 0","value":-8},"value":-4},"labelExpr":"datum.value % 5 === 0 ? datum.label : ''"}}}},{"mark":{"type":"line","color":"#228b22","clip":true},"encoding":{"x":{"field":"f","type":"quantitative","title":null,"scale":{"domain":[0.2872,0.3328],"nice":false},"axis":{"orient":"top","values":[0.29,0.295,0.3,0.305,0.31,0.315,0.32,0.325,0.33]}},"y":{"field":"g","type":"quantitative","title":null,"scale":{"domain":[0,11.6],"nice":false},"axis":{"orient":"right","values":[1,2,3,4,5,6,7,8,9,10,11],"tickSize":{"condition":{"test":"datum.value % 5 === 0","value":-8},"value":-4}}}}},{"data":{"values":[{"t":"0S2"}]},"mark":{"type":"text","align":"right","baseline":"top","dx":-10,"dy":13,"font":"Liberation Sans","fontWeight":"bold","fontSize":18},"encoding":{"text":{"field":"t"},"x":{"datum":0.3328,"axis":null},"y":{"datum":11.6,"axis":null}}}]},
{"width":196,"height":117.3,"data":{"name":"CA_3"},"layer":[{"mark":{"type":"line","color":"#ff0000","clip":true},"encoding":{"x":{"field":"f","type":"quantitative","title":null,"scale":{"domain":[0.451,0.488],"nice":false},"axis":{"orient":"bottom","values":[0.455,0.46,0.465,0.47,0.475,0.48,0.485]}},"y":{"field":"r","type":"quantitative","title":null,"scale":{"domain":[0,18.1],"nice":false},"axis":{"orient":"left","values":[1,2,3,4,5,6,7,8,9,10,11,12,13,14,15,16,17],"tickSize":{"condition":{"test":"datum.value % 5 === 0","value":-8},"value":-4},"labelExpr":"datum.value % 5 === 0 ? datum.label : ''"}}}},{"mark":{"type":"line","color":"#228b22","clip":true},"encoding":{"x":{"field":"f","type":"quantitative","title":null,"scale":{"domain":[0.451,0.488],"nice":false},"axis":{"orient":"top","values":[0.455,0.46,0.465,0.47,0.475,0.48,0.485]}},"y":{"field":"g","type":"quantitative","title":null,"scale":{"domain":[0,18.1],"nice":false},"axis":{"orient":"right","values":[1,2,3,4,5,6,7,8,9,10,11,12,13,14,15,16,17],"tickSize":{"condition":{"test":"datum.value % 5 === 0","value":-8},"value":-4}}}}},{"data":{"values":[{"t":"0S3"}]},"mark":{"type":"text","align":"right","baseline":"top","dx":-10,"dy":13,"font":"Liberation Sans","fontWeight":"bold","fontSize":18},"encoding":{"text":{"field":"t"},"x":{"datum":0.488,"axis":null},"y":{"datum":18.1,"axis":null}}}]},
{"width":196,"height":117.3,"data":{"name":"CA_4"},"layer":[{"mark":{"type":"line","color":"#ff0000","clip":true},"encoding":{"x":{"field":"f","type":"quantitative","title":null,"scale":{"domain":[0.6312,0.665],"nice":false},"axis":{"orient":"bottom","values":[0.635,0.64,0.645,0.65,0.655,0.66]}},"y":{"field":"r","type":"quantitative","title":null,"scale":{"domain":[0,18.1],"nice":false},"axis":{"orient":"left","values":[1,2,3,4,5,6,7,8,9,10,11,12,13,14,15,16,17],"tickSize":{"condition":{"test":"datum.value % 5 === 0","value":-8},"value":-4},"labelExpr":"datum.value % 5 === 0 ? datum.label : ''"}}}},{"mark":{"type":"line","color":"#228b22","clip":true},"encoding":{"x":{"field":"f","type":"quantitative","title":null,"scale":{"domain":[0.6312,0.665],"nice":false},"axis":{"orient":"top","values":[0.635,0.64,0.645,0.65,0.655,0.66]}},"y":{"field":"g","type":"quantitative","title":null,"scale":{"domain":[0,18.1],"nice":false},"axis":{"orient":"right","values":[1,2,3,4,5,6,7,8,9,10,11,12,13,14,15,16,17],"tickSize":{"condition":{"test":"datum.value % 5 === 0","value":-8},"value":-4}}}}},{"data":{"values":[{"t":"0S4"}]},"mark":{"type":"text","align":"right","baseline":"top","dx":-10,"dy":13,"font":"Liberation Sans","fontWeight":"bold","fontSize":18},"encoding":{"text":{"field":"t"},"x":{"datum":0.665,"axis":null},"y":{"datum":18.1,"axis":null}}}]},
{"width":196,"height":117.3,"data":{"name":"CA_5"},"layer":[{"mark":{"type":"line","color":"#ff0000","clip":true},"encoding":{"x":{"field":"f","type":"quantitative","title":null,"scale":{"domain":[0.8249,0.855],"nice":false},"axis":{"orient":"bottom","values":[0.83,0.835,0.84,0.845,0.85]}},"y":{"field":"r","type":"quantitative","title":null,"scale":{"domain":[0,24.2],"nice":false},"axis":{"orient":"left","values":[1,2,3,4,5,6,7,8,9,10,11,12,13,14,15,16,17,18,19,20,21,22,23],"tickSize":{"condition":{"test":"datum.value % 5 === 0","value":-8},"value":-4},"labelExpr":"datum.value % 5 === 0 ? datum.label : ''"}}}},{"mark":{"type":"line","color":"#228b22","clip":true},"encoding":{"x":{"field":"f","type":"quantitative","title":null,"scale":{"domain":[0.8249,0.855],"nice":false},"axis":{"orient":"top","values":[0.83,0.835,0.84,0.845,0.85]}},"y":{"field":"g","type":"quantitative","title":null,"scale":{"domain":[0,24.2],"nice":false},"axis":{"orient":"right","values":[1,2,3,4,5,6,7,8,9,10,11,12,13,14,15,16,17,18,19,20,21,22,23],"tickSize":{"condition":{"test":"datum.value % 5 === 0","value":-8},"value":-4}}}}},{"data":{"values":[{"t":"0S5"}]},"mark":{"type":"text","align":"right","baseline":"top","dx":-10,"dy":13,"font":"Liberation Sans","fontWeight":"bold","fontSize":18},"encoding":{"text":{"field":"t"},"x":{"datum":0.855,"axis":null},"y":{"datum":24.2,"axis":null}}},{"data":{"values":[{"t":"CA"}]},"mark":{"type":"text","align":"right","baseline":"alphabetic","dx":-10,"dy":-12,"font":"Liberation Mono","fontWeight":"bold","fontSize":20},"encoding":{"text":{"field":"t"},"x":{"datum":0.855,"axis":null},"y":{"datum":0,"axis":null}}}]},
{"width":196,"height":117.3,"data":{"name":"BH_2"},"layer":[{"mark":{"type":"line","color":"#ff0000","clip":true},"encoding":{"x":{"field":"f","type":"quantitative","title":null,"scale":{"domain":[0.2872,0.3328],"nice":false},"axis":{"orient":"bottom","values":[0.29,0.295,0.3,0.305,0.31,0.315,0.32,0.325,0.33]}},"y":{"field":"r","type":"quantitative","title":null,"scale":{"domain":[0,11.6],"nice":false},"axis":{"orient":"left","values":[1,2,3,4,5,6,7,8,9,10,11],"tickSize":{"condition":{"test":"datum.value % 5 === 0","value":-8},"value":-4},"labelExpr":"datum.value % 5 === 0 ? datum.label : ''"}}}},{"mark":{"type":"line","color":"#228b22","clip":true},"encoding":{"x":{"field":"f","type":"quantitative","title":null,"scale":{"domain":[0.2872,0.3328],"nice":false},"axis":{"orient":"top","values":[0.29,0.295,0.3,0.305,0.31,0.315,0.32,0.325,0.33]}},"y":{"field":"g","type":"quantitative","title":null,"scale":{"domain":[0,11.6],"nice":false},"axis":{"orient":"right","values":[1,2,3,4,5,6,7,8,9,10,11],"tickSize":{"condition":{"test":"datum.value % 5 === 0","value":-8},"value":-4}}}}},{"data":{"values":[{"t":"0S2"}]},"mark":{"type":"text","align":"right","baseline":"top","dx":-10,"dy":13,"font":"Liberation Sans","fontWeight":"bold","fontSize":18},"encoding":{"text":{"field":"t"},"x":{"datum":0.3328,"axis":null},"y":{"datum":11.6,"axis":null}}}]},
{"width":196,"height":117.3,"data":{"name":"BH_3"},"layer":[{"mark":{"type":"line","color":"#ff0000","clip":true},"encoding":{"x":{"field":"f","type":"quantitative","title":null,"scale":{"domain":[0.451,0.488],"nice":false},"axis":{"orient":"bottom","values":[0.455,0.46,0.465,0.47,0.475,0.48,0.485]}},"y":{"field":"r","type":"quantitative","title":null,"scale":{"domain":[0,18.1],"nice":false},"axis":{"orient":"left","values":[1,2,3,4,5,6,7,8,9,10,11,12,13,14,15,16,17],"tickSize":{"condition":{"test":"datum.value % 5 === 0","value":-8},"value":-4},"labelExpr":"datum.value % 5 === 0 ? datum.label : ''"}}}},{"mark":{"type":"line","color":"#228b22","clip":true},"encoding":{"x":{"field":"f","type":"quantitative","title":null,"scale":{"domain":[0.451,0.488],"nice":false},"axis":{"orient":"top","values":[0.455,0.46,0.465,0.47,0.475,0.48,0.485]}},"y":{"field":"g","type":"quantitative","title":null,"scale":{"domain":[0,18.1],"nice":false},"axis":{"orient":"right","values":[1,2,3,4,5,6,7,8,9,10,11,12,13,14,15,16,17],"tickSize":{"condition":{"test":"datum.value % 5 === 0","value":-8},"value":-4}}}}},{"data":{"values":[{"t":"0S3"}]},"mark":{"type":"text","align":"right","baseline":"top","dx":-10,"dy":13,"font":"Liberation Sans","fontWeight":"bold","fontSize":18},"encoding":{"text":{"field":"t"},"x":{"datum":0.488,"axis":null},"y":{"datum":18.1,"axis":null}}}]},
{"width":196,"height":117.3,"data":{"name":"BH_4"},"layer":[{"mark":{"type":"line","color":"#ff0000","clip":true},"encoding":{"x":{"field":"f","type":"quantitative","title":null,"scale":{"domain":[0.6312,0.665],"nice":false},"axis":{"orient":"bottom","values":[0.635,0.64,0.645,0.65,0.655,0.66]}},"y":{"field":"r","type":"quantitative","title":null,"scale":{"domain":[0,18.1],"nice":false},"axis":{"orient":"left","values":[1,2,3,4,5,6,7,8,9,10,11,12,13,14,15,16,17],"tickSize":{"condition":{"test":"datum.value % 5 === 0","value":-8},"value":-4},"labelExpr":"datum.value % 5 === 0 ? datum.label : ''"}}}},{"mark":{"type":"line","color":"#228b22","clip":true},"encoding":{"x":{"field":"f","type":"quantitative","title":null,"scale":{"domain":[0.6312,0.665],"nice":false},"axis":{"orient":"top","values":[0.635,0.64,0.645,0.65,0.655,0.66]}},"y":{"field":"g","type":"quantitative","title":null,"scale":{"domain":[0,18.1],"nice":false},"axis":{"orient":"right","values":[1,2,3,4,5,6,7,8,9,10,11,12,13,14,15,16,17],"tickSize":{"condition":{"test":"datum.value % 5 === 0","value":-8},"value":-4}}}}},{"data":{"values":[{"t":"0S4"}]},"mark":{"type":"text","align":"right","baseline":"top","dx":-10,"dy":13,"font":"Liberation Sans","fontWeight":"bold","fontSize":18},"encoding":{"text":{"field":"t"},"x":{"datum":0.665,"axis":null},"y":{"datum":18.1,"axis":null}}}]},
{"width":196,"height":117.3,"data":{"name":"BH_5"},"layer":[{"mark":{"type":"line","color":"#ff0000","clip":true},"encoding":{"x":{"field":"f","type":"quantitative","title":null,"scale":{"domain":[0.8249,0.855],"nice":false},"axis":{"orient":"bottom","values":[0.83,0.835,0.84,0.845,0.85]}},"y":{"field":"r","type":"quantitative","title":null,"scale":{"domain":[0,24.2],"nice":false},"axis":{"orient":"left","values":[1,2,3,4,5,6,7,8,9,10,11,12,13,14,15,16,17,18,19,20,21,22,23],"tickSize":{"condition":{"test":"datum.value % 5 === 0","value":-8},"value":-4},"labelExpr":"datum.value % 5 === 0 ? datum.label : ''"}}}},{"mark":{"type":"line","color":"#228b22","clip":true},"encoding":{"x":{"field":"f","type":"quantitative","title":null,"scale":{"domain":[0.8249,0.855],"nice":false},"axis":{"orient":"top","values":[0.83,0.835,0.84,0.845,0.85]}},"y":{"field":"g","type":"quantitative","title":null,"scale":{"domain":[0,24.2],"nice":false},"axis":{"orient":"right","values":[1,2,3,4,5,6,7,8,9,10,11,12,13,14,15,16,17,18,19,20,21,22,23],"tickSize":{"condition":{"test":"datum.value % 5 === 0","value":-8},"value":-4}}}}},{"data":{"values":[{"t":"0S5"}]},"mark":{"type":"text","align":"right","baseline":"top","dx":-10,"dy":13,"font":"Liberation Sans","fontWeight":"bold","fontSize":18},"encoding":{"text":{"field":"t"},"x":{"datum":0.855,"axis":null},"y":{"datum":24.2,"axis":null}}},{"data":{"values":[{"t":"BH"}]},"mark":{"type":"text","align":"right","baseline":"alphabetic","dx":-10,"dy":-12,"font":"Liberation Mono","fontWeight":"bold","fontSize":20},"encoding":{"text":{"field":"t"},"x":{"datum":0.855,"axis":null},"y":{"datum":0,"axis":null}}}]},
{"width":196,"height":117.3,"data":{"name":"AP_2"},"layer":[{"mark":{"type":"line","color":"#ff0000","clip":true},"encoding":{"x":{"field":"f","type":"quantitative","title":null,"scale":{"domain":[0.2872,0.3328],"nice":false},"axis":{"orient":"bottom","values":[0.29,0.295,0.3,0.305,0.31,0.315,0.32,0.325,0.33],"labels":true,"labelExpr":"datum.value == 0.3 || datum.value == 0.32 ? format(datum.value, '.2f') : ''"}},"y":{"field":"r","type":"quantitative","title":null,"scale":{"domain":[0,11.6],"nice":false},"axis":{"orient":"left","values":[1,2,3,4,5,6,7,8,9,10,11],"tickSize":{"condition":{"test":"datum.value % 5 === 0","value":-8},"value":-4},"labelExpr":"datum.value % 5 === 0 ? datum.label : ''"}}}},{"mark":{"type":"line","color":"#228b22","clip":true},"encoding":{"x":{"field":"f","type":"quantitative","title":null,"scale":{"domain":[0.2872,0.3328],"nice":false},"axis":{"orient":"top","values":[0.29,0.295,0.3,0.305,0.31,0.315,0.32,0.325,0.33]}},"y":{"field":"g","type":"quantitative","title":null,"scale":{"domain":[0,11.6],"nice":false},"axis":{"orient":"right","values":[1,2,3,4,5,6,7,8,9,10,11],"tickSize":{"condition":{"test":"datum.value % 5 === 0","value":-8},"value":-4}}}}},{"data":{"values":[{"t":"0S2"}]},"mark":{"type":"text","align":"right","baseline":"top","dx":-10,"dy":13,"font":"Liberation Mono","fontWeight":"bold","fontSize":18},"encoding":{"text":{"field":"t"},"x":{"datum":0.3328,"axis":null},"y":{"datum":11.6,"axis":null}}}]},
{"width":196,"height":117.3,"data":{"name":"AP_3"},"layer":[{"mark":{"type":"line","color":"#ff0000","clip":true},"encoding":{"x":{"field":"f","type":"quantitative","title":null,"scale":{"domain":[0.451,0.488],"nice":false},"axis":{"orient":"bottom","values":[0.455,0.46,0.465,0.47,0.475,0.48,0.485],"labels":true,"labelExpr":"datum.value == 0.46 || datum.value == 0.48 ? format(datum.value, '.2f') : ''"}},"y":{"field":"r","type":"quantitative","title":null,"scale":{"domain":[0,18.1],"nice":false},"axis":{"orient":"left","values":[1,2,3,4,5,6,7,8,9,10,11,12,13,14,15,16,17],"tickSize":{"condition":{"test":"datum.value % 5 === 0","value":-8},"value":-4},"labelExpr":"datum.value % 5 === 0 ? datum.label : ''"}}}},{"mark":{"type":"line","color":"#228b22","clip":true},"encoding":{"x":{"field":"f","type":"quantitative","title":null,"scale":{"domain":[0.451,0.488],"nice":false},"axis":{"orient":"top","values":[0.455,0.46,0.465,0.47,0.475,0.48,0.485]}},"y":{"field":"g","type":"quantitative","title":null,"scale":{"domain":[0,18.1],"nice":false},"axis":{"orient":"right","values":[1,2,3,4,5,6,7,8,9,10,11,12,13,14,15,16,17],"tickSize":{"condition":{"test":"datum.value % 5 === 0","value":-8},"value":-4}}}}},{"data":{"values":[{"t":"0S3"}]},"mark":{"type":"text","align":"right","baseline":"top","dx":-10,"dy":13,"font":"Liberation Mono","fontWeight":"bold","fontSize":18},"encoding":{"text":{"field":"t"},"x":{"datum":0.488,"axis":null},"y":{"datum":18.1,"axis":null}}}]},
{"width":196,"height":117.3,"data":{"name":"AP_4"},"layer":[{"mark":{"type":"line","color":"#ff0000","clip":true},"encoding":{"x":{"field":"f","type":"quantitative","title":null,"scale":{"domain":[0.6312,0.665],"nice":false},"axis":{"orient":"bottom","values":[0.635,0.64,0.645,0.65,0.655,0.66],"labels":true,"labelExpr":"datum.value == 0.64 || datum.value == 0.66 ? format(datum.value, '.2f') : ''"}},"y":{"field":"r","type":"quantitative","title":null,"scale":{"domain":[0,18.1],"nice":false},"axis":{"orient":"left","values":[1,2,3,4,5,6,7,8,9,10,11,12,13,14,15,16,17],"tickSize":{"condition":{"test":"datum.value % 5 === 0","value":-8},"value":-4},"labelExpr":"datum.value % 5 === 0 ? datum.label : ''"}}}},{"mark":{"type":"line","color":"#228b22","clip":true},"encoding":{"x":{"field":"f","type":"quantitative","title":null,"scale":{"domain":[0.6312,0.665],"nice":false},"axis":{"orient":"top","values":[0.635,0.64,0.645,0.65,0.655,0.66]}},"y":{"field":"g","type":"quantitative","title":null,"scale":{"domain":[0,18.1],"nice":false},"axis":{"orient":"right","values":[1,2,3,4,5,6,7,8,9,10,11,12,13,14,15,16,17],"tickSize":{"condition":{"test":"datum.value % 5 === 0","value":-8},"value":-4}}}}},{"data":{"values":[{"t":"0S4"}]},"mark":{"type":"text","align":"right","baseline":"top","dx":-10,"dy":13,"font":"Liberation Mono","fontWeight":"bold","fontSize":18},"encoding":{"text":{"field":"t"},"x":{"datum":0.665,"axis":null},"y":{"datum":18.1,"axis":null}}}]},
{"width":196,"height":117.3,"data":{"name":"AP_5"},"layer":[{"mark":{"type":"line","color":"#ff0000","clip":true},"encoding":{"x":{"field":"f","type":"quantitative","title":null,"scale":{"domain":[0.8249,0.855],"nice":false},"axis":{"orient":"bottom","values":[0.83,0.835,0.84,0.845,0.85],"labels":true,"labelExpr":"datum.value == 0.83 || datum.value == 0.84 || datum.value == 0.85 ? format(datum.value, '.2f') : ''"}},"y":{"field":"r","type":"quantitative","title":null,"scale":{"domain":[0,24.2],"nice":false},"axis":{"orient":"left","values":[1,2,3,4,5,6,7,8,9,10,11,12,13,14,15,16,17,18,19,20,21,22,23],"tickSize":{"condition":{"test":"datum.value % 5 === 0","value":-8},"value":-4},"labelExpr":"datum.value % 5 === 0 ? datum.label : ''"}}}},{"mark":{"type":"line","color":"#228b22","clip":true},"encoding":{"x":{"field":"f","type":"quantitative","title":null,"scale":{"domain":[0.8249,0.855],"nice":false},"axis":{"orient":"top","values":[0.83,0.835,0.84,0.845,0.85]}},"y":{"field":"g","type":"quantitative","title":null,"scale":{"domain":[0,24.2],"nice":false},"axis":{"orient":"right","values":[1,2,3,4,5,6,7,8,9,10,11,12,13,14,15,16,17,18,19,20,21,22,23],"tickSize":{"condition":{"test":"datum.value % 5 === 0","value":-8},"value":-4}}}}},{"data":{"values":[{"t":"0S5"}]},"mark":{"type":"text","align":"right","baseline":"top","dx":-10,"dy":13,"font":"Liberation Mono","fontWeight":"bold","fontSize":18},"encoding":{"text":{"field":"t"},"x":{"datum":0.855,"axis":null},"y":{"datum":24.2,"axis":null}}},{"data":{"values":[{"t":"AP"}]},"mark":{"type":"text","align":"right","baseline":"alphabetic","dx":-10,"dy":-12,"font":"Liberation Mono","fontWeight":"bold","fontSize":20},"encoding":{"text":{"field":"t"},"x":{"datum":0.855,"axis":null},"y":{"datum":0,"axis":null}}}]}
]
}
